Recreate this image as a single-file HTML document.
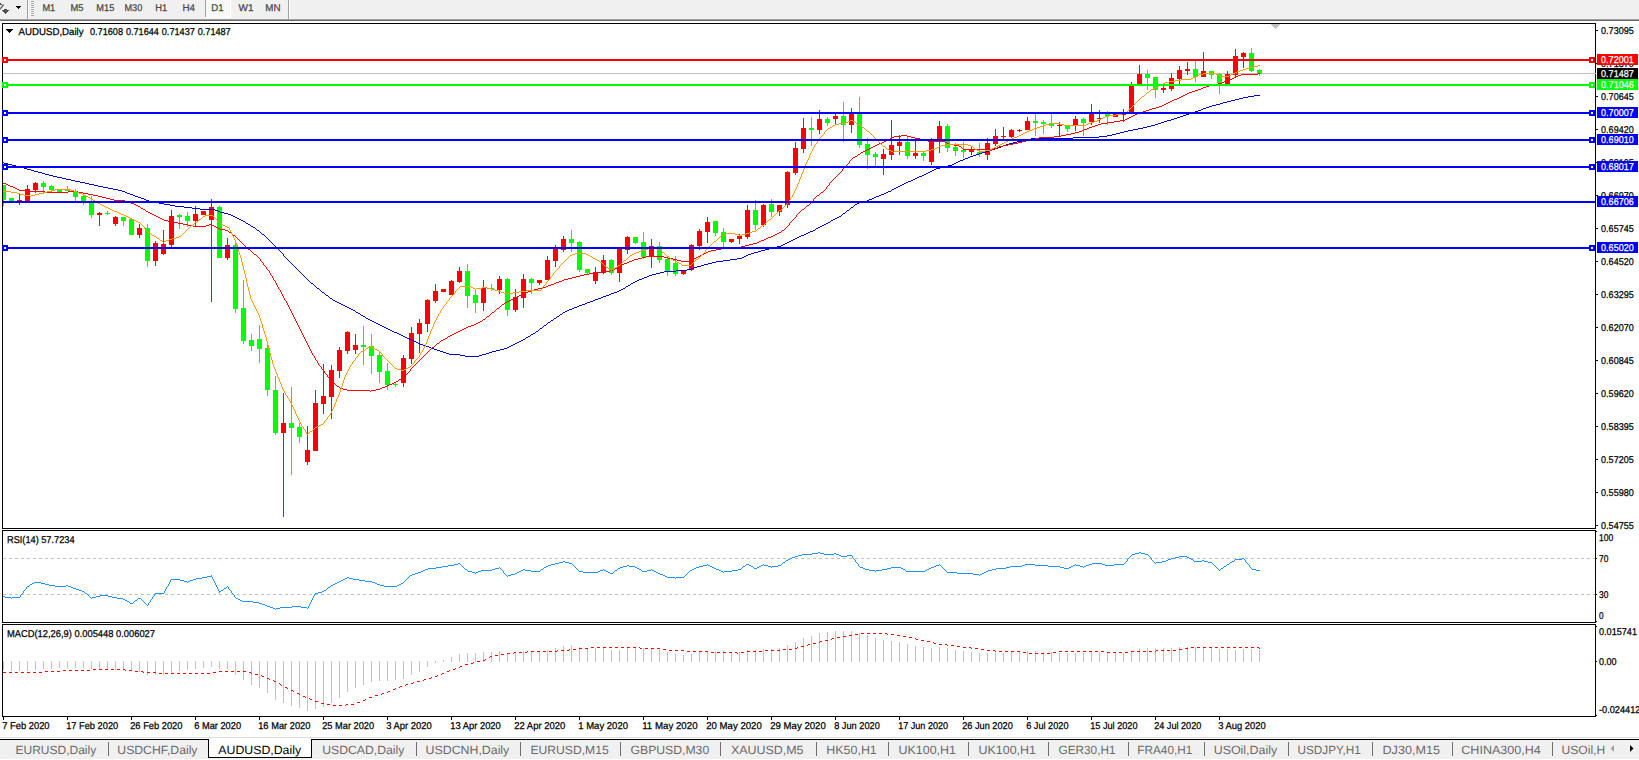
<!DOCTYPE html>
<html><head><meta charset="utf-8"><title>AUDUSD,Daily</title>
<style>html,body{margin:0;padding:0;background:#fff;overflow:hidden}svg{display:block}text{font-family:"Liberation Sans",sans-serif;text-rendering:geometricPrecision}</style>
</head><body>
<svg width="1639" height="760" viewBox="0 0 1639 760">
<rect x="0" y="0" width="1639" height="760" fill="#fff"/>
<rect x="0" y="0" width="1639" height="19" fill="#f0f0f0"/>
<rect x="0" y="19" width="1639" height="1" fill="#a0a0a0"/>
<rect x="0" y="20" width="1639" height="1" fill="#696969"/>
<g fill="#505050" shape-rendering="crispEdges"><path d="M0 3h1v1h1v1h-2z"/><rect x="4" y="9" width="3" height="1"/><rect x="2" y="10" width="7" height="1"/><rect x="3" y="11" width="5" height="1"/><rect x="4" y="12" width="3" height="1"/><rect x="5" y="13" width="1" height="1"/></g>
<path d="M3.6 4.6L0 9.2" stroke="#505050" stroke-width="1.3" fill="none"/>
<g fill="#000" shape-rendering="crispEdges"><rect x="16" y="6" width="5" height="1"/><rect x="17" y="7" width="3" height="1"/><rect x="18" y="8" width="1" height="1"/></g>
<rect x="27" y="0" width="1" height="19" fill="#a0a0a0"/>
<rect x="28" y="0" width="1" height="19" fill="#fff"/>
<rect x="31" y="1" width="3" height="1" fill="#a0a0a0"/>
<rect x="31" y="2" width="3" height="1" fill="#fff"/>
<rect x="31" y="3" width="3" height="1" fill="#a0a0a0"/>
<rect x="31" y="4" width="3" height="1" fill="#fff"/>
<rect x="31" y="5" width="3" height="1" fill="#a0a0a0"/>
<rect x="31" y="6" width="3" height="1" fill="#fff"/>
<rect x="31" y="7" width="3" height="1" fill="#a0a0a0"/>
<rect x="31" y="8" width="3" height="1" fill="#fff"/>
<rect x="31" y="9" width="3" height="1" fill="#a0a0a0"/>
<rect x="31" y="10" width="3" height="1" fill="#fff"/>
<rect x="31" y="11" width="3" height="1" fill="#a0a0a0"/>
<rect x="31" y="12" width="3" height="1" fill="#fff"/>
<rect x="31" y="13" width="3" height="1" fill="#a0a0a0"/>
<rect x="31" y="14" width="3" height="1" fill="#fff"/>
<rect x="31" y="15" width="3" height="1" fill="#a0a0a0"/>
<rect x="206" y="0" width="24" height="17" fill="#f8f8f8"/>
<rect x="205" y="0" width="1" height="18" fill="#a0a0a0"/>
<rect x="205" y="17" width="26" height="1" fill="#fff"/>
<rect x="230" y="0" width="1" height="18" fill="#fff"/>
<rect x="288" y="0" width="1" height="19" fill="#a0a0a0"/>
<rect x="289" y="0" width="1" height="19" fill="#fff"/>
<text x="42.4" y="11" font-size="9.8" fill="#484848" textLength="12.9" lengthAdjust="spacingAndGlyphs" stroke="#484848" stroke-width="0.25">M1</text>
<text x="70.5" y="11" font-size="9.8" fill="#484848" textLength="13.1" lengthAdjust="spacingAndGlyphs" stroke="#484848" stroke-width="0.25">M5</text>
<text x="96.3" y="11" font-size="9.8" fill="#484848" textLength="18.0" lengthAdjust="spacingAndGlyphs" stroke="#484848" stroke-width="0.25">M15</text>
<text x="124.5" y="11" font-size="9.8" fill="#484848" textLength="17.7" lengthAdjust="spacingAndGlyphs" stroke="#484848" stroke-width="0.25">M30</text>
<text x="155.3" y="11" font-size="9.8" fill="#484848" textLength="12.0" lengthAdjust="spacingAndGlyphs" stroke="#484848" stroke-width="0.25">H1</text>
<text x="182.4" y="11" font-size="9.8" fill="#484848" textLength="12.5" lengthAdjust="spacingAndGlyphs" stroke="#484848" stroke-width="0.25">H4</text>
<text x="211.3" y="11" font-size="9.8" fill="#484848" textLength="12.3" lengthAdjust="spacingAndGlyphs" stroke="#484848" stroke-width="0.25">D1</text>
<text x="238.6" y="11" font-size="9.8" fill="#484848" textLength="15.0" lengthAdjust="spacingAndGlyphs" stroke="#484848" stroke-width="0.25">W1</text>
<text x="265.3" y="11" font-size="9.8" fill="#484848" textLength="15.2" lengthAdjust="spacingAndGlyphs" stroke="#484848" stroke-width="0.25">MN</text>
<rect x="2" y="23" width="1594" height="1" fill="#000"/>
<rect x="2" y="528" width="1594" height="1" fill="#000"/>
<rect x="2" y="23" width="1" height="506" fill="#000"/>
<rect x="1595" y="23" width="1" height="506" fill="#000"/>
<rect x="2" y="530" width="1594" height="1" fill="#000"/>
<rect x="2" y="622" width="1594" height="1" fill="#000"/>
<rect x="2" y="530" width="1" height="93" fill="#000"/>
<rect x="1595" y="530" width="1" height="93" fill="#000"/>
<rect x="2" y="624" width="1594" height="1" fill="#000"/>
<rect x="2" y="716" width="1594" height="1" fill="#000"/>
<rect x="2" y="624" width="1" height="93" fill="#000"/>
<rect x="1595" y="624" width="1" height="93" fill="#000"/>
<g shape-rendering="crispEdges">
<rect x="3" y="73" width="1593" height="1" fill="#c0c0c0"/>
<rect x="3" y="185" width="1" height="21" fill="#00ff00"/>
<rect x="3" y="185" width="3" height="15" fill="#00ff00"/>
<rect x="11" y="198" width="1" height="3" fill="#00ff00"/>
<rect x="9" y="198" width="5" height="3" fill="#00ff00"/>
<rect x="19" y="193" width="1" height="12" fill="#ff0000"/>
<rect x="17" y="200" width="5" height="1" fill="#ff0000"/>
<rect x="27" y="185" width="1" height="16" fill="#ff0000"/>
<rect x="25" y="189" width="5" height="12" fill="#ff0000"/>
<rect x="35" y="182" width="1" height="11" fill="#ff0000"/>
<rect x="33" y="183" width="5" height="7" fill="#ff0000"/>
<rect x="43" y="181" width="1" height="13" fill="#00ff00"/>
<rect x="41" y="183" width="5" height="4" fill="#00ff00"/>
<rect x="51" y="185" width="1" height="7" fill="#00ff00"/>
<rect x="49" y="186" width="5" height="4" fill="#00ff00"/>
<rect x="59" y="189" width="1" height="3" fill="#00ff00"/>
<rect x="57" y="190" width="5" height="2" fill="#00ff00"/>
<rect x="67" y="186" width="1" height="5" fill="#00ff00"/>
<rect x="65" y="190" width="5" height="1" fill="#00ff00"/>
<rect x="75" y="189" width="1" height="12" fill="#00ff00"/>
<rect x="73" y="192" width="5" height="5" fill="#00ff00"/>
<rect x="83" y="193" width="1" height="12" fill="#00ff00"/>
<rect x="81" y="196" width="5" height="5" fill="#00ff00"/>
<rect x="91" y="196" width="1" height="22" fill="#00ff00"/>
<rect x="89" y="203" width="5" height="12" fill="#00ff00"/>
<rect x="99" y="212" width="1" height="14" fill="#ff0000"/>
<rect x="97" y="213" width="5" height="2" fill="#ff0000"/>
<rect x="107" y="211" width="1" height="4" fill="#00ff00"/>
<rect x="105" y="213" width="5" height="1" fill="#00ff00"/>
<rect x="115" y="216" width="1" height="10" fill="#ff0000"/>
<rect x="113" y="217" width="5" height="7" fill="#ff0000"/>
<rect x="123" y="217" width="1" height="9" fill="#00ff00"/>
<rect x="121" y="217" width="5" height="4" fill="#00ff00"/>
<rect x="131" y="219" width="1" height="16" fill="#00ff00"/>
<rect x="129" y="219" width="5" height="16" fill="#00ff00"/>
<rect x="139" y="224" width="1" height="14" fill="#ff0000"/>
<rect x="137" y="228" width="5" height="7" fill="#ff0000"/>
<rect x="147" y="224" width="1" height="43" fill="#00ff00"/>
<rect x="145" y="228" width="5" height="33" fill="#00ff00"/>
<rect x="155" y="241" width="1" height="25" fill="#ff0000"/>
<rect x="153" y="243" width="5" height="18" fill="#ff0000"/>
<rect x="163" y="230" width="1" height="25" fill="#ff0000"/>
<rect x="161" y="244" width="5" height="10" fill="#ff0000"/>
<rect x="171" y="210" width="1" height="37" fill="#ff0000"/>
<rect x="169" y="216" width="5" height="29" fill="#ff0000"/>
<rect x="179" y="214" width="1" height="15" fill="#00ff00"/>
<rect x="177" y="215" width="5" height="2" fill="#00ff00"/>
<rect x="187" y="212" width="1" height="15" fill="#00ff00"/>
<rect x="185" y="216" width="5" height="5" fill="#00ff00"/>
<rect x="195" y="206" width="1" height="21" fill="#ff0000"/>
<rect x="193" y="214" width="5" height="7" fill="#ff0000"/>
<rect x="203" y="211" width="1" height="4" fill="#ff0000"/>
<rect x="201" y="211" width="5" height="4" fill="#ff0000"/>
<rect x="211" y="199" width="1" height="103" fill="#ff0000"/>
<rect x="209" y="207" width="5" height="13" fill="#ff0000"/>
<rect x="219" y="206" width="1" height="52" fill="#00ff00"/>
<rect x="217" y="207" width="5" height="51" fill="#00ff00"/>
<rect x="227" y="238" width="1" height="22" fill="#ff0000"/>
<rect x="225" y="245" width="5" height="13" fill="#ff0000"/>
<rect x="235" y="243" width="1" height="70" fill="#00ff00"/>
<rect x="233" y="245" width="5" height="64" fill="#00ff00"/>
<rect x="243" y="280" width="1" height="64" fill="#00ff00"/>
<rect x="241" y="308" width="5" height="33" fill="#00ff00"/>
<rect x="251" y="334" width="1" height="17" fill="#00ff00"/>
<rect x="249" y="340" width="5" height="6" fill="#00ff00"/>
<rect x="259" y="325" width="1" height="38" fill="#00ff00"/>
<rect x="257" y="339" width="5" height="10" fill="#00ff00"/>
<rect x="267" y="343" width="1" height="53" fill="#00ff00"/>
<rect x="265" y="348" width="5" height="42" fill="#00ff00"/>
<rect x="275" y="376" width="1" height="59" fill="#00ff00"/>
<rect x="273" y="390" width="5" height="43" fill="#00ff00"/>
<rect x="283" y="393" width="1" height="124" fill="#ff0000"/>
<rect x="281" y="423" width="5" height="10" fill="#ff0000"/>
<rect x="291" y="387" width="1" height="88" fill="#00ff00"/>
<rect x="289" y="423" width="5" height="5" fill="#00ff00"/>
<rect x="299" y="423" width="1" height="20" fill="#00ff00"/>
<rect x="297" y="427" width="5" height="10" fill="#00ff00"/>
<rect x="307" y="426" width="1" height="39" fill="#ff0000"/>
<rect x="305" y="450" width="5" height="12" fill="#ff0000"/>
<rect x="315" y="390" width="1" height="61" fill="#ff0000"/>
<rect x="313" y="403" width="5" height="48" fill="#ff0000"/>
<rect x="323" y="364" width="1" height="50" fill="#ff0000"/>
<rect x="321" y="396" width="5" height="8" fill="#ff0000"/>
<rect x="331" y="365" width="1" height="54" fill="#ff0000"/>
<rect x="329" y="370" width="5" height="27" fill="#ff0000"/>
<rect x="339" y="347" width="1" height="31" fill="#ff0000"/>
<rect x="337" y="350" width="5" height="21" fill="#ff0000"/>
<rect x="347" y="331" width="1" height="23" fill="#ff0000"/>
<rect x="345" y="332" width="5" height="19" fill="#ff0000"/>
<rect x="355" y="334" width="1" height="20" fill="#ff0000"/>
<rect x="353" y="345" width="5" height="5" fill="#ff0000"/>
<rect x="363" y="326" width="1" height="39" fill="#00ff00"/>
<rect x="361" y="345" width="5" height="2" fill="#00ff00"/>
<rect x="371" y="334" width="1" height="40" fill="#00ff00"/>
<rect x="369" y="346" width="5" height="10" fill="#00ff00"/>
<rect x="379" y="351" width="1" height="32" fill="#00ff00"/>
<rect x="377" y="355" width="5" height="17" fill="#00ff00"/>
<rect x="387" y="363" width="1" height="27" fill="#00ff00"/>
<rect x="385" y="371" width="5" height="14" fill="#00ff00"/>
<rect x="395" y="383" width="1" height="4" fill="#00ff00"/>
<rect x="393" y="384" width="5" height="1" fill="#00ff00"/>
<rect x="403" y="355" width="1" height="32" fill="#ff0000"/>
<rect x="401" y="358" width="5" height="25" fill="#ff0000"/>
<rect x="411" y="327" width="1" height="37" fill="#ff0000"/>
<rect x="409" y="333" width="5" height="26" fill="#ff0000"/>
<rect x="419" y="319" width="1" height="34" fill="#ff0000"/>
<rect x="417" y="323" width="5" height="11" fill="#ff0000"/>
<rect x="427" y="299" width="1" height="33" fill="#ff0000"/>
<rect x="425" y="300" width="5" height="24" fill="#ff0000"/>
<rect x="435" y="284" width="1" height="19" fill="#ff0000"/>
<rect x="433" y="291" width="5" height="10" fill="#ff0000"/>
<rect x="443" y="289" width="1" height="3" fill="#ff0000"/>
<rect x="441" y="289" width="5" height="3" fill="#ff0000"/>
<rect x="451" y="280" width="1" height="15" fill="#ff0000"/>
<rect x="449" y="281" width="5" height="14" fill="#ff0000"/>
<rect x="459" y="267" width="1" height="16" fill="#ff0000"/>
<rect x="457" y="271" width="5" height="11" fill="#ff0000"/>
<rect x="467" y="264" width="1" height="44" fill="#00ff00"/>
<rect x="465" y="271" width="5" height="25" fill="#00ff00"/>
<rect x="475" y="289" width="1" height="24" fill="#00ff00"/>
<rect x="473" y="295" width="5" height="8" fill="#00ff00"/>
<rect x="483" y="280" width="1" height="31" fill="#ff0000"/>
<rect x="481" y="288" width="5" height="15" fill="#ff0000"/>
<rect x="491" y="284" width="1" height="7" fill="#00ff00"/>
<rect x="489" y="288" width="5" height="1" fill="#00ff00"/>
<rect x="499" y="276" width="1" height="18" fill="#ff0000"/>
<rect x="497" y="279" width="5" height="11" fill="#ff0000"/>
<rect x="507" y="278" width="1" height="38" fill="#00ff00"/>
<rect x="505" y="279" width="5" height="31" fill="#00ff00"/>
<rect x="515" y="289" width="1" height="23" fill="#ff0000"/>
<rect x="513" y="297" width="5" height="13" fill="#ff0000"/>
<rect x="523" y="274" width="1" height="34" fill="#ff0000"/>
<rect x="521" y="279" width="5" height="19" fill="#ff0000"/>
<rect x="531" y="278" width="1" height="16" fill="#00ff00"/>
<rect x="529" y="279" width="5" height="4" fill="#00ff00"/>
<rect x="539" y="280" width="1" height="5" fill="#ff0000"/>
<rect x="537" y="280" width="5" height="3" fill="#ff0000"/>
<rect x="547" y="256" width="1" height="24" fill="#ff0000"/>
<rect x="545" y="260" width="5" height="20" fill="#ff0000"/>
<rect x="555" y="245" width="1" height="22" fill="#ff0000"/>
<rect x="553" y="248" width="5" height="13" fill="#ff0000"/>
<rect x="563" y="236" width="1" height="16" fill="#ff0000"/>
<rect x="561" y="239" width="5" height="11" fill="#ff0000"/>
<rect x="571" y="230" width="1" height="22" fill="#00ff00"/>
<rect x="569" y="239" width="5" height="4" fill="#00ff00"/>
<rect x="579" y="241" width="1" height="31" fill="#00ff00"/>
<rect x="577" y="242" width="5" height="28" fill="#00ff00"/>
<rect x="587" y="269" width="1" height="5" fill="#00ff00"/>
<rect x="585" y="269" width="5" height="4" fill="#00ff00"/>
<rect x="595" y="267" width="1" height="17" fill="#ff0000"/>
<rect x="593" y="272" width="5" height="9" fill="#ff0000"/>
<rect x="603" y="255" width="1" height="19" fill="#ff0000"/>
<rect x="601" y="260" width="5" height="13" fill="#ff0000"/>
<rect x="611" y="259" width="1" height="16" fill="#00ff00"/>
<rect x="609" y="260" width="5" height="13" fill="#00ff00"/>
<rect x="619" y="247" width="1" height="35" fill="#ff0000"/>
<rect x="617" y="247" width="5" height="26" fill="#ff0000"/>
<rect x="627" y="236" width="1" height="18" fill="#ff0000"/>
<rect x="625" y="237" width="5" height="13" fill="#ff0000"/>
<rect x="635" y="237" width="1" height="7" fill="#00ff00"/>
<rect x="633" y="237" width="5" height="6" fill="#00ff00"/>
<rect x="643" y="232" width="1" height="27" fill="#00ff00"/>
<rect x="641" y="242" width="5" height="15" fill="#00ff00"/>
<rect x="651" y="239" width="1" height="29" fill="#ff0000"/>
<rect x="649" y="246" width="5" height="11" fill="#ff0000"/>
<rect x="659" y="242" width="1" height="21" fill="#00ff00"/>
<rect x="657" y="246" width="5" height="14" fill="#00ff00"/>
<rect x="667" y="256" width="1" height="20" fill="#00ff00"/>
<rect x="665" y="259" width="5" height="12" fill="#00ff00"/>
<rect x="675" y="256" width="1" height="20" fill="#00ff00"/>
<rect x="673" y="263" width="5" height="11" fill="#00ff00"/>
<rect x="683" y="271" width="1" height="4" fill="#ff0000"/>
<rect x="681" y="271" width="5" height="3" fill="#ff0000"/>
<rect x="691" y="244" width="1" height="27" fill="#ff0000"/>
<rect x="689" y="245" width="5" height="25" fill="#ff0000"/>
<rect x="699" y="229" width="1" height="21" fill="#ff0000"/>
<rect x="697" y="231" width="5" height="15" fill="#ff0000"/>
<rect x="707" y="217" width="1" height="26" fill="#ff0000"/>
<rect x="705" y="222" width="5" height="10" fill="#ff0000"/>
<rect x="715" y="221" width="1" height="15" fill="#00ff00"/>
<rect x="713" y="221" width="5" height="12" fill="#00ff00"/>
<rect x="723" y="228" width="1" height="19" fill="#00ff00"/>
<rect x="721" y="232" width="5" height="10" fill="#00ff00"/>
<rect x="731" y="239" width="1" height="4" fill="#ff0000"/>
<rect x="729" y="239" width="5" height="3" fill="#ff0000"/>
<rect x="739" y="234" width="1" height="10" fill="#ff0000"/>
<rect x="737" y="236" width="5" height="3" fill="#ff0000"/>
<rect x="747" y="205" width="1" height="34" fill="#ff0000"/>
<rect x="745" y="210" width="5" height="27" fill="#ff0000"/>
<rect x="755" y="200" width="1" height="30" fill="#00ff00"/>
<rect x="753" y="210" width="5" height="15" fill="#00ff00"/>
<rect x="763" y="204" width="1" height="23" fill="#ff0000"/>
<rect x="761" y="205" width="5" height="20" fill="#ff0000"/>
<rect x="771" y="199" width="1" height="18" fill="#00ff00"/>
<rect x="769" y="204" width="5" height="8" fill="#00ff00"/>
<rect x="779" y="205" width="1" height="11" fill="#ff0000"/>
<rect x="777" y="205" width="5" height="7" fill="#ff0000"/>
<rect x="787" y="171" width="1" height="37" fill="#ff0000"/>
<rect x="785" y="172" width="5" height="33" fill="#ff0000"/>
<rect x="795" y="142" width="1" height="33" fill="#ff0000"/>
<rect x="793" y="148" width="5" height="25" fill="#ff0000"/>
<rect x="803" y="118" width="1" height="35" fill="#ff0000"/>
<rect x="801" y="128" width="5" height="21" fill="#ff0000"/>
<rect x="811" y="117" width="1" height="29" fill="#00ff00"/>
<rect x="809" y="128" width="5" height="2" fill="#00ff00"/>
<rect x="819" y="110" width="1" height="24" fill="#ff0000"/>
<rect x="817" y="119" width="5" height="11" fill="#ff0000"/>
<rect x="827" y="117" width="1" height="9" fill="#00ff00"/>
<rect x="825" y="119" width="5" height="4" fill="#00ff00"/>
<rect x="835" y="114" width="1" height="10" fill="#ff0000"/>
<rect x="833" y="116" width="5" height="3" fill="#ff0000"/>
<rect x="843" y="102" width="1" height="40" fill="#00ff00"/>
<rect x="841" y="116" width="5" height="9" fill="#00ff00"/>
<rect x="851" y="108" width="1" height="25" fill="#ff0000"/>
<rect x="849" y="114" width="5" height="11" fill="#ff0000"/>
<rect x="859" y="97" width="1" height="51" fill="#00ff00"/>
<rect x="857" y="114" width="5" height="31" fill="#00ff00"/>
<rect x="867" y="138" width="1" height="31" fill="#00ff00"/>
<rect x="865" y="144" width="5" height="11" fill="#00ff00"/>
<rect x="875" y="152" width="1" height="14" fill="#00ff00"/>
<rect x="873" y="154" width="5" height="3" fill="#00ff00"/>
<rect x="883" y="149" width="1" height="26" fill="#ff0000"/>
<rect x="881" y="154" width="5" height="5" fill="#ff0000"/>
<rect x="891" y="120" width="1" height="40" fill="#ff0000"/>
<rect x="889" y="145" width="5" height="10" fill="#ff0000"/>
<rect x="899" y="135" width="1" height="20" fill="#ff0000"/>
<rect x="897" y="142" width="5" height="4" fill="#ff0000"/>
<rect x="907" y="137" width="1" height="22" fill="#00ff00"/>
<rect x="905" y="142" width="5" height="14" fill="#00ff00"/>
<rect x="915" y="138" width="1" height="21" fill="#ff0000"/>
<rect x="913" y="153" width="5" height="3" fill="#ff0000"/>
<rect x="923" y="151" width="1" height="10" fill="#00ff00"/>
<rect x="921" y="153" width="5" height="3" fill="#00ff00"/>
<rect x="931" y="138" width="1" height="27" fill="#ff0000"/>
<rect x="929" y="141" width="5" height="21" fill="#ff0000"/>
<rect x="939" y="121" width="1" height="32" fill="#ff0000"/>
<rect x="937" y="126" width="5" height="13" fill="#ff0000"/>
<rect x="947" y="124" width="1" height="28" fill="#00ff00"/>
<rect x="945" y="126" width="5" height="22" fill="#00ff00"/>
<rect x="955" y="143" width="1" height="13" fill="#00ff00"/>
<rect x="953" y="147" width="5" height="4" fill="#00ff00"/>
<rect x="963" y="142" width="1" height="16" fill="#00ff00"/>
<rect x="961" y="150" width="5" height="2" fill="#00ff00"/>
<rect x="971" y="147" width="1" height="8" fill="#ff0000"/>
<rect x="969" y="150" width="5" height="2" fill="#ff0000"/>
<rect x="979" y="143" width="1" height="14" fill="#00ff00"/>
<rect x="977" y="152" width="5" height="2" fill="#00ff00"/>
<rect x="987" y="138" width="1" height="22" fill="#ff0000"/>
<rect x="985" y="143" width="5" height="12" fill="#ff0000"/>
<rect x="995" y="129" width="1" height="17" fill="#ff0000"/>
<rect x="993" y="136" width="5" height="8" fill="#ff0000"/>
<rect x="1003" y="127" width="1" height="12" fill="#ff0000"/>
<rect x="1001" y="136" width="5" height="1" fill="#ff0000"/>
<rect x="1011" y="129" width="1" height="9" fill="#ff0000"/>
<rect x="1009" y="130" width="5" height="7" fill="#ff0000"/>
<rect x="1019" y="129" width="1" height="3" fill="#ff0000"/>
<rect x="1017" y="130" width="5" height="1" fill="#ff0000"/>
<rect x="1027" y="117" width="1" height="13" fill="#ff0000"/>
<rect x="1025" y="121" width="5" height="9" fill="#ff0000"/>
<rect x="1035" y="114" width="1" height="22" fill="#00ff00"/>
<rect x="1033" y="121" width="5" height="2" fill="#00ff00"/>
<rect x="1043" y="120" width="1" height="14" fill="#00ff00"/>
<rect x="1041" y="122" width="5" height="2" fill="#00ff00"/>
<rect x="1051" y="114" width="1" height="14" fill="#00ff00"/>
<rect x="1049" y="123" width="5" height="3" fill="#00ff00"/>
<rect x="1059" y="122" width="1" height="14" fill="#ff0000"/>
<rect x="1057" y="125" width="5" height="1" fill="#ff0000"/>
<rect x="1067" y="125" width="1" height="7" fill="#00ff00"/>
<rect x="1065" y="126" width="5" height="3" fill="#00ff00"/>
<rect x="1075" y="116" width="1" height="15" fill="#ff0000"/>
<rect x="1073" y="119" width="5" height="7" fill="#ff0000"/>
<rect x="1083" y="118" width="1" height="18" fill="#00ff00"/>
<rect x="1081" y="119" width="5" height="4" fill="#00ff00"/>
<rect x="1091" y="104" width="1" height="21" fill="#ff0000"/>
<rect x="1089" y="114" width="5" height="8" fill="#ff0000"/>
<rect x="1099" y="110" width="1" height="13" fill="#ff0000"/>
<rect x="1097" y="118" width="5" height="1" fill="#ff0000"/>
<rect x="1107" y="111" width="1" height="14" fill="#00ff00"/>
<rect x="1105" y="114" width="5" height="2" fill="#00ff00"/>
<rect x="1115" y="114" width="1" height="3" fill="#ff0000"/>
<rect x="1113" y="114" width="5" height="3" fill="#ff0000"/>
<rect x="1123" y="109" width="1" height="13" fill="#ff0000"/>
<rect x="1121" y="114" width="5" height="1" fill="#ff0000"/>
<rect x="1131" y="82" width="1" height="30" fill="#ff0000"/>
<rect x="1129" y="86" width="5" height="26" fill="#ff0000"/>
<rect x="1139" y="65" width="1" height="19" fill="#ff0000"/>
<rect x="1137" y="74" width="5" height="10" fill="#ff0000"/>
<rect x="1147" y="70" width="1" height="20" fill="#00ff00"/>
<rect x="1145" y="74" width="5" height="4" fill="#00ff00"/>
<rect x="1155" y="77" width="1" height="21" fill="#00ff00"/>
<rect x="1153" y="77" width="5" height="13" fill="#00ff00"/>
<rect x="1163" y="86" width="1" height="7" fill="#ff0000"/>
<rect x="1161" y="88" width="5" height="2" fill="#ff0000"/>
<rect x="1171" y="73" width="1" height="18" fill="#ff0000"/>
<rect x="1169" y="78" width="5" height="11" fill="#ff0000"/>
<rect x="1179" y="66" width="1" height="18" fill="#ff0000"/>
<rect x="1177" y="70" width="5" height="9" fill="#ff0000"/>
<rect x="1187" y="62" width="1" height="13" fill="#ff0000"/>
<rect x="1185" y="69" width="5" height="2" fill="#ff0000"/>
<rect x="1195" y="61" width="1" height="21" fill="#00ff00"/>
<rect x="1193" y="69" width="5" height="8" fill="#00ff00"/>
<rect x="1203" y="52" width="1" height="25" fill="#ff0000"/>
<rect x="1201" y="71" width="5" height="6" fill="#ff0000"/>
<rect x="1211" y="71" width="1" height="8" fill="#00ff00"/>
<rect x="1209" y="71" width="5" height="4" fill="#00ff00"/>
<rect x="1219" y="73" width="1" height="21" fill="#00ff00"/>
<rect x="1217" y="74" width="5" height="9" fill="#00ff00"/>
<rect x="1227" y="71" width="1" height="13" fill="#ff0000"/>
<rect x="1225" y="74" width="5" height="10" fill="#ff0000"/>
<rect x="1235" y="49" width="1" height="28" fill="#ff0000"/>
<rect x="1233" y="56" width="5" height="19" fill="#ff0000"/>
<rect x="1243" y="52" width="1" height="16" fill="#ff0000"/>
<rect x="1241" y="53" width="5" height="4" fill="#ff0000"/>
<rect x="1251" y="48" width="1" height="24" fill="#00ff00"/>
<rect x="1249" y="53" width="5" height="18" fill="#00ff00"/>
<rect x="1259" y="69" width="1" height="7" fill="#00ff00"/>
<rect x="1257" y="70" width="5" height="4" fill="#00ff00"/>
<path d="M1254 95h6v1h-6zM1248 96h6v1h-6zM1243 97h5v1h-5zM1239 98h4v1h-4zM1235 99h4v1h-4zM1231 100h4v1h-4zM1227 101h4v1h-4zM1223 102h4v1h-4zM1220 103h3v1h-3zM1216 104h4v1h-4zM1212 105h4v1h-4zM1209 106h3v1h-3zM1206 107h3v1h-3zM1203 108h3v1h-3zM1201 109h2v1h-2zM1198 110h3v1h-3zM1195 111h3v1h-3zM1192 112h3v1h-3zM1189 113h3v1h-3zM1186 114h3v1h-3zM1183 115h3v1h-3zM1180 116h3v1h-3zM1177 117h3v1h-3zM1174 118h3v1h-3zM1171 119h3v1h-3zM1167 120h4v1h-4zM1164 121h3v1h-3zM1161 122h3v1h-3zM1158 123h3v1h-3zM1155 124h3v1h-3zM1151 125h4v1h-4zM1147 126h4v1h-4zM1143 127h4v1h-4zM1138 128h5v1h-5zM1133 129h5v1h-5zM1128 130h5v1h-5zM1124 131h4v1h-4zM1120 132h4v1h-4zM1116 133h4v1h-4zM1112 134h4v1h-4zM1107 135h5v1h-5zM1099 136h8v1h-8zM1073 137h26v1h-26zM1031 138h42v1h-42zM1026 139h5v1h-5zM1022 140h4v1h-4zM1017 141h5v1h-5zM1013 142h4v1h-4zM1009 143h4v1h-4zM1006 144h3v1h-3zM1003 145h3v1h-3zM1001 146h2v1h-2zM998 147h3v1h-3zM995 148h3v1h-3zM992 149h3v1h-3zM989 150h3v1h-3zM986 151h3v1h-3zM982 152h4v1h-4zM979 153h3v1h-3zM976 154h3v1h-3zM973 155h3v1h-3zM970 156h3v1h-3zM968 157h2v1h-2zM965 158h3v1h-3zM963 159h2v1h-2zM960 160h3v1h-3zM958 161h2v1h-2zM2 162h2v1h-2zM956 162h2v1h-2zM4 163h4v1h-4zM954 163h2v1h-2zM8 164h4v1h-4zM952 164h2v1h-2zM12 165h4v1h-4zM948 165h4v1h-4zM16 166h4v1h-4zM944 166h4v1h-4zM20 167h4v1h-4zM940 167h4v1h-4zM24 168h3v1h-3zM936 168h4v1h-4zM27 169h4v1h-4zM934 169h2v1h-2zM31 170h3v1h-3zM932 170h2v1h-2zM34 171h4v1h-4zM930 171h2v1h-2zM38 172h4v1h-4zM928 172h2v1h-2zM42 173h3v1h-3zM926 173h2v1h-2zM45 174h4v1h-4zM924 174h2v1h-2zM49 175h4v1h-4zM922 175h2v1h-2zM53 176h4v1h-4zM919 176h3v1h-3zM57 177h5v1h-5zM917 177h2v1h-2zM62 178h4v1h-4zM915 178h2v1h-2zM66 179h5v1h-5zM913 179h2v1h-2zM71 180h4v1h-4zM911 180h2v1h-2zM75 181h5v1h-5zM908 181h3v1h-3zM80 182h5v1h-5zM906 182h2v1h-2zM85 183h4v1h-4zM904 183h2v1h-2zM89 184h5v1h-5zM902 184h2v1h-2zM94 185h4v1h-4zM900 185h2v1h-2zM98 186h5v1h-5zM898 186h2v1h-2zM103 187h5v1h-5zM896 187h2v1h-2zM108 188h5v1h-5zM894 188h2v1h-2zM113 189h5v1h-5zM892 189h2v1h-2zM118 190h4v1h-4zM891 190h1v1h-1zM122 191h3v1h-3zM888 191h3v1h-3zM125 192h2v1h-2zM886 192h2v1h-2zM127 193h3v1h-3zM884 193h2v1h-2zM130 194h3v1h-3zM881 194h3v1h-3zM133 195h2v1h-2zM879 195h2v1h-2zM135 196h3v1h-3zM876 196h3v1h-3zM138 197h3v1h-3zM874 197h2v1h-2zM141 198h3v1h-3zM872 198h2v1h-2zM144 199h2v1h-2zM869 199h3v1h-3zM146 200h3v1h-3zM867 200h2v1h-2zM149 201h4v1h-4zM863 201h4v1h-4zM153 202h6v1h-6zM859 202h4v1h-4zM159 203h5v1h-5zM857 203h2v1h-2zM164 204h6v1h-6zM855 204h2v1h-2zM170 205h5v1h-5zM854 205h1v1h-1zM175 206h9v1h-9zM853 206h1v1h-1zM184 207h8v1h-8zM851 207h2v1h-2zM192 208h8v1h-8zM850 208h1v1h-1zM200 209h15v1h-15zM849 209h1v1h-1zM215 210h3v1h-3zM847 210h2v1h-2zM218 211h2v1h-2zM846 211h1v1h-1zM220 212h4v1h-4zM845 212h1v1h-1zM224 213h4v1h-4zM843 213h2v1h-2zM228 214h3v1h-3zM842 214h1v1h-1zM231 215h2v1h-2zM841 215h1v1h-1zM233 216h2v1h-2zM839 216h2v1h-2zM235 217h2v1h-2zM837 217h2v1h-2zM237 218h2v1h-2zM835 218h2v1h-2zM239 219h2v1h-2zM833 219h2v1h-2zM241 220h2v1h-2zM831 220h2v1h-2zM243 221h2v1h-2zM830 221h1v1h-1zM245 222h1v1h-1zM828 222h2v1h-2zM246 223h2v1h-2zM826 223h2v1h-2zM248 224h2v1h-2zM824 224h2v1h-2zM250 225h1v1h-1zM822 225h2v1h-2zM251 226h2v1h-2zM820 226h2v1h-2zM253 227h2v1h-2zM818 227h2v1h-2zM255 228h1v1h-1zM816 228h2v1h-2zM256 229h1v1h-1zM815 229h1v1h-1zM257 230h2v1h-2zM813 230h2v1h-2zM259 231h1v1h-1zM810 231h3v1h-3zM260 232h1v1h-1zM808 232h2v1h-2zM261 233h1v1h-1zM806 233h2v1h-2zM262 234h2v1h-2zM804 234h2v1h-2zM264 235h1v1h-1zM801 235h3v1h-3zM265 236h1v1h-1zM799 236h2v1h-2zM266 237h1v1h-1zM797 237h2v1h-2zM267 238h1v1h-1zM795 238h2v1h-2zM268 239h1v1h-1zM793 239h2v1h-2zM269 240h1v1h-1zM791 240h2v1h-2zM270 241h1v1h-1zM789 241h2v1h-2zM271 242h1v1h-1zM787 242h2v1h-2zM272 243h1v1h-1zM785 243h2v1h-2zM273 244h1v1h-1zM783 244h2v1h-2zM274 245h1v1h-1zM781 245h2v1h-2zM275 246h1v1h-1zM777 246h4v1h-4zM276 247h1v1h-1zM773 247h4v1h-4zM277 248h1v1h-1zM769 248h4v1h-4zM278 249h1v1h-1zM765 249h4v1h-4zM279 250h1v1h-1zM761 250h4v1h-4zM280 251h1v1h-1zM758 251h3v1h-3zM281 252h1v1h-1zM754 252h4v1h-4zM282 253h1v1h-1zM751 253h3v1h-3zM748 254h3v1h-3zM283 254h1v2h-1zM746 255h2v1h-2zM284 256h1v1h-1zM744 256h2v1h-2zM285 257h1v1h-1zM742 257h2v1h-2zM286 258h1v1h-1zM737 258h5v1h-5zM287 259h1v1h-1zM730 259h7v1h-7zM288 260h1v1h-1zM723 260h7v1h-7zM289 261h1v1h-1zM716 261h7v1h-7zM290 262h1v1h-1zM712 262h4v1h-4zM291 263h1v1h-1zM708 263h4v1h-4zM292 264h1v1h-1zM704 264h4v1h-4zM293 265h1v1h-1zM701 265h3v1h-3zM294 266h1v1h-1zM697 266h4v1h-4zM295 267h1v1h-1zM694 267h3v1h-3zM296 268h1v1h-1zM691 268h3v1h-3zM297 269h1v1h-1zM687 269h4v1h-4zM298 270h1v1h-1zM676 270h11v1h-11zM299 271h1v1h-1zM664 271h12v1h-12zM300 272h1v1h-1zM660 272h4v1h-4zM301 273h1v1h-1zM656 273h4v1h-4zM302 274h1v1h-1zM652 274h4v1h-4zM303 275h1v1h-1zM649 275h3v1h-3zM304 276h1v1h-1zM647 276h2v1h-2zM305 277h1v1h-1zM644 277h3v1h-3zM306 278h1v1h-1zM642 278h2v1h-2zM307 279h1v1h-1zM639 279h3v1h-3zM308 280h1v1h-1zM637 280h2v1h-2zM309 281h1v1h-1zM635 281h2v1h-2zM310 282h1v1h-1zM633 282h2v1h-2zM311 283h2v1h-2zM631 283h2v1h-2zM313 284h1v1h-1zM630 284h1v1h-1zM314 285h1v1h-1zM628 285h2v1h-2zM315 286h1v1h-1zM626 286h2v1h-2zM316 287h1v1h-1zM625 287h1v1h-1zM317 288h2v1h-2zM623 288h2v1h-2zM319 289h1v1h-1zM621 289h2v1h-2zM320 290h1v1h-1zM619 290h2v1h-2zM321 291h1v1h-1zM617 291h2v1h-2zM322 292h2v1h-2zM614 292h3v1h-3zM324 293h1v1h-1zM611 293h3v1h-3zM325 294h1v1h-1zM609 294h2v1h-2zM326 295h2v1h-2zM606 295h3v1h-3zM328 296h1v1h-1zM603 296h3v1h-3zM329 297h1v1h-1zM601 297h2v1h-2zM330 298h2v1h-2zM598 298h3v1h-3zM332 299h1v1h-1zM595 299h3v1h-3zM333 300h2v1h-2zM593 300h2v1h-2zM335 301h2v1h-2zM590 301h3v1h-3zM337 302h2v1h-2zM587 302h3v1h-3zM339 303h2v1h-2zM585 303h2v1h-2zM341 304h2v1h-2zM582 304h3v1h-3zM343 305h2v1h-2zM579 305h3v1h-3zM345 306h2v1h-2zM577 306h2v1h-2zM347 307h2v1h-2zM574 307h3v1h-3zM349 308h2v1h-2zM572 308h2v1h-2zM351 309h2v1h-2zM569 309h3v1h-3zM353 310h2v1h-2zM567 310h2v1h-2zM355 311h1v1h-1zM565 311h2v1h-2zM356 312h2v1h-2zM563 312h2v1h-2zM358 313h2v1h-2zM562 313h1v1h-1zM360 314h1v1h-1zM560 314h2v1h-2zM361 315h2v1h-2zM559 315h1v1h-1zM363 316h2v1h-2zM557 316h2v1h-2zM365 317h1v1h-1zM556 317h1v1h-1zM366 318h2v1h-2zM554 318h2v1h-2zM368 319h2v1h-2zM553 319h1v1h-1zM370 320h2v1h-2zM551 320h2v1h-2zM372 321h2v1h-2zM550 321h1v1h-1zM374 322h2v1h-2zM548 322h2v1h-2zM376 323h2v1h-2zM547 323h1v1h-1zM378 324h2v1h-2zM546 324h1v1h-1zM380 325h2v1h-2zM544 325h2v1h-2zM382 326h2v1h-2zM543 326h1v1h-1zM384 327h2v1h-2zM542 327h1v1h-1zM386 328h2v1h-2zM540 328h2v1h-2zM388 329h2v1h-2zM539 329h1v1h-1zM390 330h2v1h-2zM538 330h1v1h-1zM392 331h2v1h-2zM536 331h2v1h-2zM394 332h3v1h-3zM535 332h1v1h-1zM397 333h2v1h-2zM533 333h2v1h-2zM399 334h2v1h-2zM531 334h2v1h-2zM401 335h2v1h-2zM530 335h1v1h-1zM403 336h2v1h-2zM528 336h2v1h-2zM405 337h2v1h-2zM526 337h2v1h-2zM407 338h2v1h-2zM525 338h1v1h-1zM409 339h3v1h-3zM523 339h2v1h-2zM412 340h2v1h-2zM521 340h2v1h-2zM414 341h2v1h-2zM519 341h2v1h-2zM416 342h2v1h-2zM517 342h2v1h-2zM418 343h2v1h-2zM515 343h2v1h-2zM420 344h3v1h-3zM513 344h2v1h-2zM423 345h3v1h-3zM511 345h2v1h-2zM426 346h3v1h-3zM509 346h2v1h-2zM429 347h2v1h-2zM507 347h2v1h-2zM431 348h3v1h-3zM504 348h3v1h-3zM434 349h3v1h-3zM500 349h4v1h-4zM437 350h3v1h-3zM496 350h4v1h-4zM440 351h3v1h-3zM492 351h4v1h-4zM443 352h3v1h-3zM489 352h3v1h-3zM446 353h3v1h-3zM486 353h3v1h-3zM449 354h11v1h-11zM482 354h4v1h-4zM460 355h5v1h-5zM479 355h3v1h-3zM465 356h14v1h-14z" fill="#0000cd"/>
<path d="M1258 73h2v1h-2zM1241 74h17v1h-17zM1238 75h3v1h-3zM1236 76h2v1h-2zM1234 77h2v1h-2zM1232 78h2v1h-2zM1229 79h3v1h-3zM1227 80h2v1h-2zM1224 81h3v1h-3zM1222 82h2v1h-2zM1218 83h4v1h-4zM1213 84h5v1h-5zM1209 85h4v1h-4zM1206 86h3v1h-3zM1203 87h3v1h-3zM1201 88h2v1h-2zM1198 89h3v1h-3zM1195 90h3v1h-3zM1192 91h3v1h-3zM1189 92h3v1h-3zM1187 93h2v1h-2zM1185 94h2v1h-2zM1183 95h2v1h-2zM1181 96h2v1h-2zM1179 97h2v1h-2zM1177 98h2v1h-2zM1174 99h3v1h-3zM1172 100h2v1h-2zM1170 101h2v1h-2zM1168 102h2v1h-2zM1166 103h2v1h-2zM1164 104h2v1h-2zM1162 105h2v1h-2zM1159 106h3v1h-3zM1156 107h3v1h-3zM1152 108h4v1h-4zM1149 109h3v1h-3zM1146 110h3v1h-3zM1143 111h3v1h-3zM1140 112h3v1h-3zM1137 113h3v1h-3zM1135 114h2v1h-2zM1133 115h2v1h-2zM1131 116h2v1h-2zM1129 117h2v1h-2zM1127 118h2v1h-2zM1125 119h2v1h-2zM1120 120h5v1h-5zM1114 121h6v1h-6zM1107 122h7v1h-7zM1101 123h6v1h-6zM1098 124h3v1h-3zM1095 125h3v1h-3zM1092 126h3v1h-3zM1089 127h3v1h-3zM1087 128h2v1h-2zM1084 129h3v1h-3zM1082 130h2v1h-2zM1079 131h3v1h-3zM1075 132h4v1h-4zM1071 133h4v1h-4zM1066 134h5v1h-5zM901 135h6v1h-6zM1061 135h5v1h-5zM894 136h7v1h-7zM907 136h4v1h-4zM1054 136h7v1h-7zM892 137h2v1h-2zM911 137h4v1h-4zM1039 137h15v1h-15zM890 138h2v1h-2zM915 138h5v1h-5zM1035 138h4v1h-4zM888 139h2v1h-2zM920 139h4v1h-4zM1031 139h4v1h-4zM886 140h2v1h-2zM924 140h4v1h-4zM1026 140h5v1h-5zM884 141h2v1h-2zM928 141h17v1h-17zM1022 141h4v1h-4zM882 142h2v1h-2zM945 142h2v1h-2zM1018 142h4v1h-4zM879 143h3v1h-3zM947 143h2v1h-2zM1013 143h5v1h-5zM877 144h2v1h-2zM949 144h5v1h-5zM1008 144h5v1h-5zM875 145h2v1h-2zM954 145h5v1h-5zM1003 145h5v1h-5zM873 146h2v1h-2zM959 146h2v1h-2zM999 146h4v1h-4zM871 147h2v1h-2zM961 147h1v1h-1zM997 147h2v1h-2zM869 148h2v1h-2zM962 148h1v1h-1zM994 148h3v1h-3zM867 149h2v1h-2zM963 149h26v1h-26zM992 149h2v1h-2zM865 150h2v1h-2zM989 150h3v1h-3zM863 151h2v1h-2zM861 152h2v1h-2zM860 153h1v1h-1zM858 154h2v1h-2zM857 155h1v1h-1zM855 156h2v1h-2zM853 157h2v1h-2zM852 158h1v1h-1zM851 159h1v1h-1zM850 160h1v1h-1zM849 161h1v2h-1zM848 163h1v1h-1zM847 164h1v1h-1zM846 165h1v1h-1zM845 166h1v1h-1zM844 167h1v1h-1zM843 168h1v1h-1zM842 169h1v2h-1zM841 171h1v1h-1zM840 172h1v1h-1zM839 173h1v1h-1zM838 174h1v1h-1zM837 175h1v1h-1zM836 176h1v1h-1zM835 177h1v1h-1zM834 178h1v1h-1zM833 179h1v1h-1zM832 180h1v1h-1zM831 181h1v1h-1zM830 182h1v1h-1zM3 183h3v1h-3zM829 183h1v2h-1zM6 184h2v1h-2zM8 185h2v1h-2zM828 185h1v1h-1zM10 186h3v1h-3zM827 186h1v1h-1zM13 187h2v1h-2zM826 187h1v2h-1zM15 188h2v1h-2zM17 189h2v1h-2zM825 189h1v1h-1zM19 190h6v1h-6zM824 190h1v1h-1zM25 191h20v1h-20zM68 191h10v1h-10zM823 191h1v1h-1zM45 192h23v1h-23zM78 192h5v1h-5zM821 192h2v1h-2zM83 193h5v1h-5zM820 193h1v1h-1zM88 194h5v1h-5zM819 194h1v1h-1zM93 195h5v1h-5zM817 195h2v1h-2zM98 196h4v1h-4zM816 196h1v1h-1zM102 197h4v1h-4zM815 197h1v1h-1zM106 198h4v1h-4zM814 198h1v1h-1zM110 199h4v1h-4zM813 199h1v2h-1zM114 200h11v1h-11zM125 201h3v1h-3zM812 201h1v1h-1zM128 202h3v1h-3zM811 202h1v1h-1zM131 203h3v1h-3zM810 203h1v1h-1zM134 204h2v1h-2zM809 204h1v1h-1zM136 205h2v1h-2zM807 205h2v1h-2zM138 206h2v1h-2zM806 206h1v1h-1zM140 207h1v1h-1zM805 207h1v1h-1zM141 208h2v1h-2zM804 208h1v1h-1zM143 209h2v1h-2zM802 209h2v1h-2zM145 210h1v1h-1zM801 210h1v1h-1zM146 211h2v1h-2zM800 211h1v1h-1zM148 212h2v1h-2zM799 212h1v1h-1zM150 213h2v1h-2zM798 213h1v1h-1zM152 214h2v1h-2zM797 214h1v1h-1zM154 215h2v1h-2zM796 215h1v2h-1zM156 216h2v1h-2zM158 217h2v1h-2zM795 217h1v1h-1zM160 218h2v1h-2zM794 218h1v1h-1zM162 219h2v1h-2zM793 219h1v1h-1zM164 220h4v1h-4zM792 220h1v1h-1zM168 221h5v1h-5zM791 221h1v1h-1zM173 222h5v1h-5zM790 222h1v1h-1zM178 223h5v1h-5zM789 223h1v2h-1zM183 224h5v1h-5zM209 224h3v1h-3zM188 225h5v1h-5zM206 225h3v1h-3zM212 225h2v1h-2zM788 225h1v1h-1zM193 226h13v1h-13zM214 226h2v1h-2zM787 226h1v1h-1zM216 227h2v1h-2zM786 227h1v1h-1zM218 228h2v1h-2zM785 228h1v1h-1zM220 229h5v1h-5zM784 229h1v1h-1zM225 230h3v1h-3zM782 230h2v1h-2zM228 231h1v1h-1zM781 231h1v1h-1zM229 232h2v1h-2zM779 232h2v1h-2zM231 233h1v1h-1zM777 233h2v1h-2zM232 234h1v1h-1zM775 234h2v1h-2zM233 235h2v1h-2zM773 235h2v1h-2zM235 236h1v1h-1zM771 236h2v1h-2zM236 237h1v1h-1zM768 237h3v1h-3zM237 238h1v1h-1zM766 238h2v1h-2zM238 239h1v1h-1zM764 239h2v1h-2zM239 240h1v1h-1zM761 240h3v1h-3zM240 241h1v1h-1zM759 241h2v1h-2zM241 242h1v1h-1zM757 242h2v1h-2zM242 243h1v1h-1zM753 243h4v1h-4zM243 244h1v1h-1zM749 244h4v1h-4zM244 245h1v1h-1zM745 245h4v1h-4zM245 246h1v1h-1zM741 246h4v1h-4zM246 247h1v1h-1zM731 247h10v1h-10zM247 248h1v1h-1zM721 248h10v1h-10zM248 249h2v1h-2zM716 249h5v1h-5zM250 250h1v1h-1zM711 250h5v1h-5zM251 251h1v1h-1zM708 251h3v1h-3zM252 252h1v1h-1zM706 252h2v1h-2zM253 253h1v1h-1zM704 253h2v1h-2zM254 254h2v1h-2zM702 254h2v1h-2zM256 255h1v1h-1zM700 255h2v1h-2zM257 256h1v1h-1zM646 256h18v1h-18zM698 256h2v1h-2zM258 257h1v1h-1zM642 257h4v1h-4zM664 257h4v1h-4zM696 257h2v1h-2zM259 258h1v1h-1zM638 258h4v1h-4zM668 258h5v1h-5zM694 258h2v1h-2zM634 259h4v1h-4zM673 259h4v1h-4zM692 259h2v1h-2zM260 259h1v2h-1zM632 260h2v1h-2zM677 260h4v1h-4zM691 260h1v1h-1zM261 261h1v1h-1zM629 261h3v1h-3zM681 261h10v1h-10zM262 262h1v1h-1zM627 262h2v1h-2zM624 263h3v1h-3zM263 263h1v2h-1zM622 264h2v1h-2zM264 265h1v1h-1zM620 265h2v1h-2zM265 266h1v1h-1zM618 266h2v1h-2zM617 267h1v1h-1zM266 267h1v2h-1zM615 268h2v1h-2zM267 269h1v1h-1zM613 269h2v1h-2zM268 270h1v1h-1zM610 270h3v1h-3zM606 271h4v1h-4zM269 271h1v2h-1zM596 272h10v1h-10zM589 273h7v1h-7zM270 273h1v2h-1zM584 274h5v1h-5zM271 275h1v1h-1zM580 275h4v1h-4zM576 276h4v1h-4zM272 276h1v2h-1zM572 277h4v1h-4zM568 278h4v1h-4zM273 278h1v2h-1zM564 279h4v1h-4zM274 280h1v1h-1zM562 280h2v1h-2zM559 281h3v1h-3zM275 281h1v2h-1zM556 282h3v1h-3zM554 283h2v1h-2zM276 283h1v2h-1zM551 284h3v1h-3zM548 285h3v1h-3zM277 285h1v2h-1zM546 286h2v1h-2zM542 287h4v1h-4zM278 287h1v2h-1zM538 288h4v1h-4zM279 289h1v1h-1zM534 289h4v1h-4zM531 290h3v1h-3zM280 290h1v2h-1zM528 291h3v1h-3zM526 292h2v1h-2zM281 292h1v2h-1zM524 293h2v1h-2zM521 294h3v1h-3zM282 294h1v2h-1zM519 295h2v1h-2zM517 296h2v1h-2zM283 296h1v2h-1zM515 297h2v1h-2zM513 298h2v1h-2zM284 298h1v2h-1zM511 299h2v1h-2zM285 300h1v1h-1zM509 300h2v1h-2zM507 301h2v1h-2zM286 301h1v2h-1zM505 302h2v1h-2zM504 303h1v1h-1zM287 303h1v2h-1zM502 304h2v1h-2zM501 305h1v1h-1zM288 305h1v2h-1zM500 306h1v1h-1zM499 307h1v1h-1zM289 307h1v2h-1zM497 308h2v1h-2zM496 309h1v1h-1zM290 309h1v2h-1zM495 310h1v1h-1zM494 311h1v1h-1zM291 311h1v2h-1zM492 312h2v1h-2zM491 313h1v1h-1zM292 313h1v2h-1zM490 314h1v1h-1zM489 315h1v1h-1zM293 315h1v2h-1zM487 316h2v1h-2zM486 317h1v1h-1zM294 317h1v2h-1zM485 318h1v1h-1zM483 319h2v1h-2zM295 319h1v2h-1zM482 320h1v1h-1zM480 321h2v1h-2zM296 321h1v2h-1zM478 322h2v1h-2zM476 323h2v1h-2zM297 323h1v2h-1zM474 324h2v1h-2zM471 325h3v1h-3zM298 325h1v2h-1zM468 326h3v1h-3zM466 327h2v1h-2zM299 327h1v2h-1zM464 328h2v1h-2zM462 329h2v1h-2zM300 329h1v2h-1zM460 330h2v1h-2zM458 331h2v1h-2zM301 331h1v2h-1zM456 332h2v1h-2zM454 333h2v1h-2zM302 333h1v2h-1zM452 334h2v1h-2zM450 335h2v1h-2zM303 335h1v2h-1zM448 336h2v1h-2zM447 337h1v1h-1zM304 337h1v2h-1zM445 338h2v1h-2zM443 339h2v1h-2zM305 339h1v2h-1zM441 340h2v1h-2zM440 341h1v1h-1zM306 341h1v2h-1zM439 342h1v1h-1zM437 343h2v1h-2zM307 343h1v2h-1zM436 344h1v1h-1zM435 345h1v1h-1zM308 345h1v2h-1zM434 346h1v1h-1zM432 347h2v1h-2zM309 347h1v2h-1zM431 348h1v1h-1zM430 349h1v1h-1zM310 349h1v2h-1zM429 350h1v1h-1zM428 351h1v1h-1zM311 351h1v2h-1zM427 352h1v1h-1zM426 353h1v1h-1zM312 353h1v2h-1zM425 354h1v1h-1zM313 355h1v1h-1zM424 355h1v1h-1zM423 356h1v1h-1zM314 356h1v2h-1zM422 357h1v1h-1zM421 358h1v1h-1zM315 358h1v2h-1zM420 359h1v1h-1zM316 360h1v1h-1zM419 360h1v1h-1zM418 361h1v1h-1zM317 361h1v2h-1zM417 362h1v1h-1zM416 363h1v1h-1zM318 363h1v2h-1zM415 364h1v1h-1zM319 365h1v1h-1zM414 365h1v1h-1zM320 366h1v1h-1zM413 366h1v1h-1zM412 367h1v1h-1zM321 367h1v2h-1zM411 368h1v1h-1zM322 369h1v1h-1zM410 369h1v2h-1zM323 370h1v1h-1zM409 371h1v1h-1zM324 371h1v2h-1zM408 372h1v1h-1zM325 373h1v1h-1zM407 373h1v1h-1zM326 374h1v1h-1zM406 374h1v1h-1zM405 375h1v1h-1zM327 375h1v2h-1zM403 376h2v1h-2zM328 377h1v1h-1zM402 377h1v1h-1zM329 378h1v1h-1zM401 378h1v1h-1zM330 379h1v1h-1zM399 379h2v1h-2zM331 380h1v1h-1zM398 380h1v1h-1zM332 381h1v1h-1zM396 381h2v1h-2zM333 382h1v1h-1zM394 382h2v1h-2zM334 383h1v1h-1zM392 383h2v1h-2zM335 384h1v1h-1zM389 384h3v1h-3zM336 385h1v1h-1zM387 385h2v1h-2zM337 386h2v1h-2zM385 386h2v1h-2zM339 387h1v1h-1zM382 387h3v1h-3zM340 388h3v1h-3zM380 388h2v1h-2zM343 389h4v1h-4zM376 389h4v1h-4zM347 390h23v1h-23zM371 390h5v1h-5zM370 391h1v1h-1z" fill="#ff0000"/>
<path d="M1258 65h2v1h-2zM1254 66h4v1h-4zM1250 67h4v1h-4zM1246 68h4v1h-4zM1243 69h3v1h-3zM1240 70h3v1h-3zM1237 71h3v1h-3zM1235 72h2v1h-2zM1203 73h13v1h-13zM1233 73h2v1h-2zM1199 74h4v1h-4zM1216 74h2v1h-2zM1231 74h2v1h-2zM1197 75h2v1h-2zM1218 75h2v1h-2zM1229 75h2v1h-2zM1195 76h2v1h-2zM1220 76h9v1h-9zM1193 77h2v1h-2zM1191 78h2v1h-2zM1181 79h10v1h-10zM1175 80h6v1h-6zM1169 81h6v1h-6zM1165 82h4v1h-4zM1163 83h2v1h-2zM1161 84h2v1h-2zM1159 85h2v1h-2zM1157 86h2v1h-2zM1155 87h2v1h-2zM1153 88h2v1h-2zM1151 89h2v1h-2zM1150 90h1v1h-1zM1149 91h1v1h-1zM1147 92h2v1h-2zM1146 93h1v1h-1zM1145 94h1v1h-1zM1144 95h1v1h-1zM1142 96h2v1h-2zM1141 97h1v1h-1zM1140 98h1v1h-1zM1139 99h1v1h-1zM1138 100h1v1h-1zM1137 101h1v1h-1zM1136 102h1v1h-1zM1135 103h1v1h-1zM1134 104h1v1h-1zM1133 105h1v1h-1zM1132 106h1v1h-1zM1131 107h1v1h-1zM1130 108h1v1h-1zM1129 109h1v1h-1zM1128 110h1v1h-1zM1127 111h1v1h-1zM1126 112h1v1h-1zM1122 113h4v1h-4zM1116 114h6v1h-6zM1109 115h7v1h-7zM1105 116h4v1h-4zM1103 117h2v1h-2zM1101 118h2v1h-2zM1099 119h2v1h-2zM850 120h3v1h-3zM1097 120h2v1h-2zM848 121h2v1h-2zM853 121h2v1h-2zM1094 121h3v1h-3zM846 122h2v1h-2zM855 122h1v1h-1zM1091 122h3v1h-3zM839 123h7v1h-7zM856 123h2v1h-2zM1052 123h8v1h-8zM1088 123h3v1h-3zM835 124h4v1h-4zM858 124h2v1h-2zM1046 124h6v1h-6zM1060 124h4v1h-4zM1086 124h2v1h-2zM833 125h2v1h-2zM860 125h1v1h-1zM1043 125h3v1h-3zM1064 125h3v1h-3zM1068 125h18v1h-18zM832 126h1v1h-1zM861 126h1v1h-1zM1040 126h3v1h-3zM1067 126h1v1h-1zM830 127h2v1h-2zM862 127h2v1h-2zM1037 127h3v1h-3zM828 128h2v1h-2zM864 128h1v1h-1zM1034 128h3v1h-3zM827 129h1v1h-1zM865 129h1v1h-1zM1032 129h2v1h-2zM826 130h1v1h-1zM866 130h1v1h-1zM1029 130h3v1h-3zM825 131h1v1h-1zM867 131h2v1h-2zM1027 131h2v1h-2zM869 132h1v1h-1zM1025 132h2v1h-2zM824 132h1v2h-1zM870 133h1v1h-1zM1023 133h2v1h-2zM823 134h1v1h-1zM871 134h1v1h-1zM1021 134h2v1h-2zM822 135h1v1h-1zM872 135h1v1h-1zM1019 135h2v1h-2zM821 136h1v1h-1zM873 136h1v1h-1zM1017 136h2v1h-2zM820 137h1v1h-1zM874 137h1v1h-1zM1014 137h3v1h-3zM875 138h1v1h-1zM1012 138h2v1h-2zM819 138h1v2h-1zM876 139h1v1h-1zM1010 139h2v1h-2zM818 140h1v1h-1zM877 140h1v1h-1zM1008 140h2v1h-2zM878 141h1v1h-1zM1006 141h2v1h-2zM817 141h1v2h-1zM879 142h1v1h-1zM1004 142h2v1h-2zM816 143h1v1h-1zM880 143h1v1h-1zM1002 143h2v1h-2zM815 144h1v1h-1zM881 144h1v1h-1zM947 144h21v1h-21zM1000 144h2v1h-2zM882 145h1v1h-1zM941 145h6v1h-6zM968 145h3v1h-3zM998 145h2v1h-2zM814 145h1v2h-1zM883 146h2v1h-2zM939 146h2v1h-2zM971 146h2v1h-2zM996 146h2v1h-2zM885 147h1v1h-1zM937 147h2v1h-2zM973 147h1v1h-1zM994 147h2v1h-2zM813 147h1v2h-1zM886 148h1v1h-1zM935 148h2v1h-2zM974 148h1v1h-1zM992 148h2v1h-2zM887 149h2v1h-2zM931 149h4v1h-4zM975 149h2v1h-2zM990 149h2v1h-2zM812 149h1v2h-1zM889 150h2v1h-2zM926 150h5v1h-5zM977 150h2v1h-2zM985 150h5v1h-5zM891 151h2v1h-2zM894 151h32v1h-32zM979 151h6v1h-6zM811 151h1v2h-1zM893 152h1v1h-1zM810 153h1v2h-1zM809 155h1v3h-1zM808 158h1v2h-1zM807 160h1v2h-1zM806 162h1v2h-1zM805 164h1v3h-1zM804 167h1v2h-1zM803 169h1v3h-1zM802 172h1v2h-1zM801 174h1v3h-1zM800 177h1v2h-1zM799 179h1v3h-1zM798 182h1v2h-1zM797 184h1v3h-1zM796 187h1v2h-1zM55 189h16v1h-16zM795 189h1v2h-1zM51 190h4v1h-4zM71 190h3v1h-3zM3 191h8v1h-8zM47 191h4v1h-4zM74 191h3v1h-3zM794 191h1v2h-1zM11 192h6v1h-6zM43 192h4v1h-4zM77 192h2v1h-2zM17 193h3v1h-3zM39 193h4v1h-4zM79 193h3v1h-3zM793 193h1v2h-1zM20 194h4v1h-4zM35 194h4v1h-4zM82 194h2v1h-2zM24 195h6v1h-6zM31 195h4v1h-4zM84 195h2v1h-2zM792 195h1v2h-1zM30 196h1v1h-1zM86 196h2v1h-2zM88 197h2v1h-2zM791 197h1v1h-1zM90 198h1v1h-1zM790 198h1v2h-1zM91 199h2v1h-2zM93 200h2v1h-2zM789 200h1v1h-1zM95 201h1v1h-1zM788 201h1v1h-1zM96 202h2v1h-2zM787 202h1v2h-1zM98 203h2v1h-2zM100 204h2v1h-2zM786 204h1v1h-1zM102 205h2v1h-2zM785 205h1v1h-1zM104 206h2v1h-2zM784 206h1v1h-1zM106 207h2v1h-2zM783 207h1v1h-1zM108 208h2v1h-2zM782 208h1v1h-1zM110 209h2v1h-2zM781 209h1v1h-1zM112 210h2v1h-2zM779 210h2v1h-2zM114 211h3v1h-3zM778 211h1v1h-1zM117 212h2v1h-2zM777 212h1v1h-1zM119 213h2v1h-2zM776 213h1v1h-1zM121 214h3v1h-3zM775 214h1v1h-1zM124 215h2v1h-2zM205 215h8v1h-8zM774 215h1v1h-1zM126 216h2v1h-2zM203 216h2v1h-2zM213 216h1v1h-1zM773 216h1v1h-1zM128 217h2v1h-2zM202 217h1v1h-1zM214 217h1v1h-1zM772 217h1v1h-1zM130 218h2v1h-2zM201 218h1v1h-1zM215 218h1v1h-1zM771 218h1v1h-1zM132 219h2v1h-2zM199 219h2v1h-2zM216 219h1v1h-1zM769 219h2v1h-2zM134 220h2v1h-2zM198 220h1v1h-1zM217 220h1v1h-1zM768 220h1v1h-1zM136 221h2v1h-2zM197 221h1v1h-1zM218 221h1v1h-1zM767 221h1v1h-1zM138 222h2v1h-2zM195 222h2v1h-2zM219 222h1v1h-1zM766 222h1v1h-1zM140 223h1v1h-1zM194 223h1v1h-1zM220 223h1v1h-1zM765 223h1v1h-1zM141 224h1v1h-1zM193 224h1v1h-1zM221 224h2v1h-2zM764 224h1v1h-1zM142 225h1v1h-1zM191 225h2v1h-2zM223 225h2v1h-2zM762 225h2v1h-2zM143 226h1v1h-1zM190 226h1v1h-1zM225 226h2v1h-2zM761 226h1v1h-1zM189 227h1v1h-1zM227 227h2v1h-2zM760 227h1v1h-1zM144 227h1v2h-1zM188 228h1v1h-1zM758 228h2v1h-2zM229 228h1v2h-1zM145 229h1v1h-1zM187 229h1v1h-1zM757 229h1v1h-1zM146 230h1v1h-1zM186 230h1v1h-1zM756 230h1v1h-1zM230 230h1v2h-1zM147 231h1v1h-1zM185 231h1v1h-1zM752 231h4v1h-4zM148 232h1v1h-1zM184 232h1v1h-1zM749 232h3v1h-3zM231 232h1v2h-1zM149 233h2v1h-2zM183 233h1v1h-1zM726 233h9v1h-9zM746 233h3v1h-3zM151 234h1v1h-1zM182 234h1v1h-1zM724 234h2v1h-2zM735 234h4v1h-4zM742 234h4v1h-4zM232 234h1v2h-1zM152 235h2v1h-2zM181 235h1v1h-1zM722 235h2v1h-2zM739 235h3v1h-3zM154 236h2v1h-2zM179 236h2v1h-2zM720 236h2v1h-2zM233 236h1v2h-1zM156 237h1v1h-1zM176 237h3v1h-3zM719 237h1v1h-1zM157 238h2v1h-2zM172 238h4v1h-4zM718 238h1v1h-1zM234 238h1v2h-1zM159 239h1v1h-1zM169 239h3v1h-3zM717 239h1v1h-1zM160 240h2v1h-2zM166 240h3v1h-3zM716 240h1v1h-1zM235 240h1v3h-1zM162 241h1v1h-1zM164 241h2v1h-2zM714 241h2v1h-2zM163 242h1v1h-1zM713 242h1v1h-1zM712 243h1v1h-1zM236 243h1v3h-1zM711 244h1v1h-1zM710 245h1v1h-1zM709 246h1v1h-1zM237 246h1v3h-1zM651 247h4v1h-4zM708 247h1v1h-1zM648 248h3v1h-3zM655 248h2v1h-2zM707 248h1v1h-1zM646 249h2v1h-2zM657 249h2v1h-2zM706 249h1v1h-1zM238 249h1v3h-1zM642 250h4v1h-4zM659 250h2v1h-2zM705 250h1v2h-1zM639 251h3v1h-3zM661 251h1v1h-1zM636 252h3v1h-3zM662 252h2v1h-2zM704 252h1v1h-1zM239 252h1v3h-1zM575 253h11v1h-11zM634 253h2v1h-2zM664 253h1v1h-1zM703 253h1v1h-1zM572 254h3v1h-3zM586 254h2v1h-2zM632 254h2v1h-2zM665 254h1v1h-1zM702 254h1v1h-1zM570 255h2v1h-2zM588 255h2v1h-2zM630 255h2v1h-2zM666 255h1v1h-1zM701 255h1v1h-1zM240 255h1v3h-1zM569 256h1v1h-1zM590 256h2v1h-2zM629 256h1v1h-1zM667 256h2v1h-2zM700 256h1v1h-1zM568 257h1v1h-1zM592 257h1v1h-1zM628 257h1v1h-1zM669 257h1v1h-1zM699 257h1v1h-1zM567 258h1v1h-1zM593 258h2v1h-2zM627 258h1v1h-1zM670 258h1v1h-1zM698 258h1v1h-1zM241 258h1v4h-1zM566 259h1v1h-1zM595 259h2v1h-2zM626 259h1v1h-1zM671 259h2v1h-2zM696 259h2v1h-2zM565 260h1v1h-1zM597 260h2v1h-2zM624 260h2v1h-2zM673 260h2v1h-2zM695 260h1v1h-1zM564 261h1v1h-1zM599 261h1v1h-1zM623 261h1v1h-1zM675 261h2v1h-2zM694 261h1v1h-1zM563 262h1v1h-1zM600 262h2v1h-2zM622 262h1v1h-1zM677 262h2v1h-2zM693 262h1v1h-1zM242 262h1v4h-1zM562 263h1v1h-1zM602 263h1v1h-1zM621 263h1v1h-1zM679 263h2v1h-2zM692 263h1v1h-1zM561 264h1v1h-1zM603 264h1v1h-1zM620 264h1v1h-1zM681 264h1v1h-1zM691 264h1v1h-1zM560 265h1v1h-1zM604 265h1v1h-1zM618 265h2v1h-2zM682 265h9v1h-9zM605 266h1v1h-1zM617 266h1v1h-1zM559 266h1v2h-1zM243 266h1v4h-1zM606 267h2v1h-2zM615 267h2v1h-2zM558 268h1v1h-1zM608 268h1v1h-1zM614 268h1v1h-1zM557 269h1v1h-1zM609 269h2v1h-2zM612 269h2v1h-2zM556 270h1v1h-1zM611 270h1v1h-1zM244 270h1v4h-1zM555 271h1v1h-1zM554 272h1v1h-1zM553 273h1v2h-1zM245 274h1v4h-1zM552 275h1v1h-1zM551 276h1v1h-1zM550 277h1v2h-1zM246 278h1v5h-1zM549 279h1v1h-1zM548 280h1v1h-1zM547 281h1v1h-1zM546 282h1v2h-1zM247 283h1v4h-1zM545 284h1v1h-1zM544 285h1v1h-1zM460 286h11v1h-11zM543 286h1v1h-1zM459 287h1v1h-1zM471 287h2v1h-2zM482 287h5v1h-5zM542 287h1v2h-1zM248 287h1v4h-1zM458 288h1v1h-1zM473 288h2v1h-2zM476 288h6v1h-6zM487 288h4v1h-4zM457 289h1v1h-1zM475 289h1v1h-1zM491 289h4v1h-4zM541 289h1v1h-1zM456 290h1v1h-1zM495 290h3v1h-3zM526 290h15v1h-15zM498 291h3v1h-3zM519 291h7v1h-7zM455 291h1v2h-1zM249 291h1v4h-1zM501 292h3v1h-3zM513 292h6v1h-6zM454 293h1v1h-1zM504 293h3v1h-3zM508 293h5v1h-5zM453 294h1v1h-1zM507 294h1v1h-1zM452 295h1v1h-1zM250 295h1v4h-1zM451 296h1v1h-1zM450 297h1v1h-1zM449 298h1v2h-1zM251 299h1v2h-1zM448 300h1v1h-1zM447 301h1v1h-1zM252 301h1v2h-1zM446 302h1v2h-1zM253 303h1v2h-1zM445 304h1v1h-1zM444 305h1v1h-1zM254 305h1v2h-1zM443 306h1v2h-1zM255 307h1v2h-1zM442 308h1v1h-1zM256 309h1v2h-1zM441 309h1v2h-1zM257 311h1v2h-1zM440 311h1v2h-1zM439 313h1v1h-1zM258 313h1v2h-1zM438 314h1v2h-1zM259 315h1v3h-1zM437 316h1v2h-1zM436 318h1v2h-1zM260 318h1v3h-1zM435 320h1v2h-1zM261 321h1v3h-1zM434 322h1v2h-1zM433 324h1v3h-1zM262 324h1v4h-1zM432 327h1v2h-1zM263 328h1v3h-1zM431 329h1v2h-1zM264 331h1v3h-1zM430 331h1v3h-1zM429 334h1v2h-1zM265 334h1v3h-1zM428 336h1v3h-1zM266 337h1v4h-1zM427 339h1v3h-1zM267 341h1v4h-1zM426 342h1v2h-1zM425 344h1v2h-1zM268 345h1v4h-1zM370 346h1v1h-1zM424 346h1v2h-1zM368 347h2v1h-2zM371 347h2v1h-2zM366 348h2v1h-2zM373 348h2v1h-2zM423 348h1v2h-1zM365 349h1v1h-1zM375 349h2v1h-2zM269 349h1v4h-1zM363 350h2v1h-2zM377 350h2v1h-2zM422 350h1v2h-1zM361 351h2v1h-2zM379 351h1v1h-1zM360 352h1v1h-1zM380 352h1v1h-1zM421 352h1v1h-1zM359 353h1v1h-1zM381 353h1v1h-1zM420 353h1v2h-1zM270 353h1v4h-1zM358 354h1v2h-1zM382 354h1v2h-1zM419 355h1v2h-1zM357 356h1v1h-1zM383 356h1v1h-1zM356 357h1v1h-1zM384 357h1v1h-1zM418 357h1v1h-1zM271 357h1v3h-1zM385 358h1v1h-1zM417 358h1v1h-1zM355 358h1v2h-1zM386 359h1v1h-1zM416 359h1v1h-1zM354 360h1v1h-1zM387 360h1v1h-1zM415 360h1v1h-1zM272 360h1v4h-1zM353 361h1v1h-1zM388 361h1v1h-1zM414 361h1v2h-1zM389 362h1v1h-1zM352 362h1v2h-1zM390 363h1v1h-1zM413 363h1v1h-1zM351 364h1v1h-1zM391 364h1v1h-1zM412 364h1v1h-1zM273 364h1v3h-1zM392 365h1v1h-1zM411 365h1v1h-1zM350 365h1v2h-1zM393 366h1v1h-1zM410 366h1v1h-1zM394 367h1v1h-1zM408 367h2v1h-2zM274 367h1v2h-1zM349 367h1v2h-1zM395 368h2v1h-2zM406 368h2v1h-2zM397 369h4v1h-4zM404 369h2v1h-2zM348 369h1v2h-1zM275 369h1v3h-1zM401 370h3v1h-3zM347 371h1v2h-1zM276 372h1v2h-1zM346 373h1v2h-1zM277 374h1v3h-1zM345 375h1v2h-1zM278 377h1v2h-1zM344 377h1v3h-1zM279 379h1v3h-1zM343 380h1v3h-1zM280 382h1v2h-1zM342 383h1v3h-1zM281 384h1v3h-1zM341 386h1v3h-1zM282 387h1v2h-1zM283 389h1v2h-1zM340 389h1v3h-1zM284 391h1v2h-1zM339 392h1v3h-1zM285 393h1v2h-1zM286 395h1v1h-1zM338 395h1v2h-1zM287 396h1v2h-1zM337 397h1v2h-1zM288 398h1v1h-1zM289 399h1v2h-1zM336 399h1v3h-1zM290 401h1v2h-1zM335 402h1v2h-1zM291 403h1v2h-1zM334 404h1v3h-1zM292 405h1v2h-1zM293 407h1v2h-1zM333 407h1v2h-1zM294 409h1v2h-1zM332 409h1v2h-1zM331 411h1v2h-1zM295 411h1v3h-1zM330 413h1v2h-1zM296 414h1v2h-1zM329 415h1v1h-1zM328 416h1v1h-1zM297 416h1v2h-1zM327 417h1v2h-1zM298 418h1v2h-1zM326 419h1v1h-1zM325 420h1v1h-1zM299 420h1v2h-1zM324 421h1v2h-1zM300 422h1v2h-1zM323 423h1v1h-1zM321 424h2v1h-2zM301 424h1v2h-1zM319 425h2v1h-2zM302 426h1v1h-1zM317 426h2v1h-2zM315 427h2v1h-2zM303 427h1v2h-1zM314 428h1v1h-1zM304 429h1v1h-1zM313 429h1v1h-1zM312 430h1v1h-1zM305 430h1v2h-1zM310 431h2v1h-2zM309 432h1v1h-1zM306 432h1v2h-1zM308 433h1v1h-1zM307 434h1v1h-1z" fill="#ff9c00"/>
<rect x="3" y="59" width="1592" height="2" fill="#ff0000"/>
<rect x="2" y="57" width="6" height="6" fill="#ff0000"/>
<rect x="4" y="59" width="2" height="2" fill="#fff"/>
<rect x="1589" y="57" width="6" height="6" fill="#ff0000"/>
<rect x="1591" y="59" width="2" height="2" fill="#fff"/>
<rect x="3" y="84" width="1592" height="2" fill="#00ff00"/>
<rect x="2" y="82" width="6" height="6" fill="#00ff00"/>
<rect x="4" y="84" width="2" height="2" fill="#fff"/>
<rect x="1589" y="82" width="6" height="6" fill="#00ff00"/>
<rect x="1591" y="84" width="2" height="2" fill="#fff"/>
<rect x="3" y="112" width="1592" height="2" fill="#0000ff"/>
<rect x="2" y="110" width="6" height="6" fill="#0000ff"/>
<rect x="4" y="112" width="2" height="2" fill="#fff"/>
<rect x="1589" y="110" width="6" height="6" fill="#0000ff"/>
<rect x="1591" y="112" width="2" height="2" fill="#fff"/>
<rect x="3" y="139" width="1592" height="2" fill="#0000ff"/>
<rect x="2" y="137" width="6" height="6" fill="#0000ff"/>
<rect x="4" y="139" width="2" height="2" fill="#fff"/>
<rect x="1589" y="137" width="6" height="6" fill="#0000ff"/>
<rect x="1591" y="139" width="2" height="2" fill="#fff"/>
<rect x="3" y="166" width="1592" height="2" fill="#0000ff"/>
<rect x="2" y="164" width="6" height="6" fill="#0000ff"/>
<rect x="4" y="166" width="2" height="2" fill="#fff"/>
<rect x="1589" y="164" width="6" height="6" fill="#0000ff"/>
<rect x="1591" y="166" width="2" height="2" fill="#fff"/>
<rect x="3" y="201" width="1592" height="2" fill="#0000ff"/>
<rect x="3" y="247" width="1592" height="2" fill="#0000ff"/>
<rect x="2" y="245" width="6" height="6" fill="#0000ff"/>
<rect x="4" y="247" width="2" height="2" fill="#fff"/>
<rect x="1589" y="245" width="6" height="6" fill="#0000ff"/>
<rect x="1591" y="247" width="2" height="2" fill="#fff"/>
<rect x="1271" y="24" width="9" height="1" fill="#c0c0c0"/>
<rect x="1272" y="25" width="7" height="1" fill="#c0c0c0"/>
<rect x="1273" y="26" width="5" height="1" fill="#c0c0c0"/>
<rect x="1274" y="27" width="3" height="1" fill="#c0c0c0"/>
<rect x="1275" y="28" width="1" height="1" fill="#c0c0c0"/>
</g>
<rect x="1596" y="30" width="2" height="1" fill="#000"/>
<text x="1601.1" y="34" font-size="9.9" fill="#000" textLength="32.6" lengthAdjust="spacingAndGlyphs" stroke="#000" stroke-width="0.25">0.73095</text>
<rect x="1596" y="63" width="2" height="1" fill="#000"/>
<text x="1601.1" y="67" font-size="9.9" fill="#000" textLength="32.6" lengthAdjust="spacingAndGlyphs" stroke="#000" stroke-width="0.25">0.71870</text>
<rect x="1596" y="96" width="2" height="1" fill="#000"/>
<text x="1601.1" y="100" font-size="9.9" fill="#000" textLength="32.6" lengthAdjust="spacingAndGlyphs" stroke="#000" stroke-width="0.25">0.70645</text>
<rect x="1596" y="129" width="2" height="1" fill="#000"/>
<text x="1601.1" y="133" font-size="9.9" fill="#000" textLength="32.6" lengthAdjust="spacingAndGlyphs" stroke="#000" stroke-width="0.25">0.69420</text>
<rect x="1596" y="162" width="2" height="1" fill="#000"/>
<text x="1601.1" y="166" font-size="9.9" fill="#000" textLength="32.6" lengthAdjust="spacingAndGlyphs" stroke="#000" stroke-width="0.25">0.68195</text>
<rect x="1596" y="195" width="2" height="1" fill="#000"/>
<text x="1601.1" y="199" font-size="9.9" fill="#000" textLength="32.6" lengthAdjust="spacingAndGlyphs" stroke="#000" stroke-width="0.25">0.66970</text>
<rect x="1596" y="228" width="2" height="1" fill="#000"/>
<text x="1601.1" y="232" font-size="9.9" fill="#000" textLength="32.6" lengthAdjust="spacingAndGlyphs" stroke="#000" stroke-width="0.25">0.65745</text>
<rect x="1596" y="261" width="2" height="1" fill="#000"/>
<text x="1601.1" y="265" font-size="9.9" fill="#000" textLength="32.6" lengthAdjust="spacingAndGlyphs" stroke="#000" stroke-width="0.25">0.64520</text>
<rect x="1596" y="294" width="2" height="1" fill="#000"/>
<text x="1601.1" y="298" font-size="9.9" fill="#000" textLength="32.6" lengthAdjust="spacingAndGlyphs" stroke="#000" stroke-width="0.25">0.63295</text>
<rect x="1596" y="327" width="2" height="1" fill="#000"/>
<text x="1601.1" y="331" font-size="9.9" fill="#000" textLength="32.6" lengthAdjust="spacingAndGlyphs" stroke="#000" stroke-width="0.25">0.62070</text>
<rect x="1596" y="360" width="2" height="1" fill="#000"/>
<text x="1601.1" y="364" font-size="9.9" fill="#000" textLength="32.6" lengthAdjust="spacingAndGlyphs" stroke="#000" stroke-width="0.25">0.60845</text>
<rect x="1596" y="393" width="2" height="1" fill="#000"/>
<text x="1601.1" y="397" font-size="9.9" fill="#000" textLength="32.6" lengthAdjust="spacingAndGlyphs" stroke="#000" stroke-width="0.25">0.59620</text>
<rect x="1596" y="426" width="2" height="1" fill="#000"/>
<text x="1601.1" y="430" font-size="9.9" fill="#000" textLength="32.6" lengthAdjust="spacingAndGlyphs" stroke="#000" stroke-width="0.25">0.58395</text>
<rect x="1596" y="459" width="2" height="1" fill="#000"/>
<text x="1601.1" y="463" font-size="9.9" fill="#000" textLength="32.6" lengthAdjust="spacingAndGlyphs" stroke="#000" stroke-width="0.25">0.57205</text>
<rect x="1596" y="492" width="2" height="1" fill="#000"/>
<text x="1601.1" y="496" font-size="9.9" fill="#000" textLength="32.6" lengthAdjust="spacingAndGlyphs" stroke="#000" stroke-width="0.25">0.55980</text>
<rect x="1596" y="525" width="2" height="1" fill="#000"/>
<text x="1601.1" y="529" font-size="9.9" fill="#000" textLength="32.6" lengthAdjust="spacingAndGlyphs" stroke="#000" stroke-width="0.25">0.54755</text>
<rect x="1597" y="54" width="41" height="11" fill="#ff0000"/>
<text x="1601.1" y="63" font-size="9.9" fill="#fff" textLength="32.6" lengthAdjust="spacingAndGlyphs" stroke="#fff" stroke-width="0.25">0.72001</text>
<rect x="1597" y="79" width="41" height="11" fill="#00ff00"/>
<text x="1601.1" y="88" font-size="9.9" fill="#fff" textLength="32.6" lengthAdjust="spacingAndGlyphs" stroke="#fff" stroke-width="0.25">0.71046</text>
<rect x="1597" y="107" width="41" height="11" fill="#0000ff"/>
<text x="1601.1" y="116" font-size="9.9" fill="#fff" textLength="32.6" lengthAdjust="spacingAndGlyphs" stroke="#fff" stroke-width="0.25">0.70007</text>
<rect x="1597" y="134" width="41" height="11" fill="#0000ff"/>
<text x="1601.1" y="143" font-size="9.9" fill="#fff" textLength="32.6" lengthAdjust="spacingAndGlyphs" stroke="#fff" stroke-width="0.25">0.69010</text>
<rect x="1597" y="161" width="41" height="11" fill="#0000ff"/>
<text x="1601.1" y="170" font-size="9.9" fill="#fff" textLength="32.6" lengthAdjust="spacingAndGlyphs" stroke="#fff" stroke-width="0.25">0.68017</text>
<rect x="1597" y="196" width="41" height="11" fill="#0000ff"/>
<text x="1601.1" y="205" font-size="9.9" fill="#fff" textLength="32.6" lengthAdjust="spacingAndGlyphs" stroke="#fff" stroke-width="0.25">0.66706</text>
<rect x="1597" y="242" width="41" height="11" fill="#0000ff"/>
<text x="1601.1" y="251" font-size="9.9" fill="#fff" textLength="32.6" lengthAdjust="spacingAndGlyphs" stroke="#fff" stroke-width="0.25">0.65020</text>
<rect x="1597" y="68" width="41" height="11" fill="#000"/>
<text x="1601.1" y="77" font-size="9.9" fill="#fff" textLength="32.6" lengthAdjust="spacingAndGlyphs" stroke="#fff" stroke-width="0.25">0.71487</text>
<g fill="#000" shape-rendering="crispEdges"><rect x="6" y="29" width="7" height="1"/><rect x="7" y="30" width="5" height="1"/><rect x="8" y="31" width="3" height="1"/><rect x="9" y="32" width="1" height="1"/></g>
<text x="18.6" y="35" font-size="9.9" fill="#000" textLength="65" lengthAdjust="spacingAndGlyphs" stroke="#000" stroke-width="0.25">AUDUSD,Daily</text>
<text x="90.0" y="35" font-size="9.9" fill="#000" textLength="33" lengthAdjust="spacingAndGlyphs" stroke="#000" stroke-width="0.25">0.71608</text>
<text x="125.9" y="35" font-size="9.9" fill="#000" textLength="33" lengthAdjust="spacingAndGlyphs" stroke="#000" stroke-width="0.25">0.71644</text>
<text x="161.8" y="35" font-size="9.9" fill="#000" textLength="33" lengthAdjust="spacingAndGlyphs" stroke="#000" stroke-width="0.25">0.71437</text>
<text x="197.7" y="35" font-size="9.9" fill="#000" textLength="33" lengthAdjust="spacingAndGlyphs" stroke="#000" stroke-width="0.25">0.71487</text>
<g shape-rendering="crispEdges">
<line x1="3" y1="558.5" x2="1595" y2="558.5" stroke="#c0c0c0" stroke-width="1" stroke-dasharray="3 3"/>
<line x1="3" y1="594.5" x2="1595" y2="594.5" stroke="#c0c0c0" stroke-width="1" stroke-dasharray="3 3"/>
<path d="M818 552h2v1h-2zM1139 552h2v1h-2zM812 553h6v1h-6zM820 553h4v1h-4zM834 553h2v1h-2zM1135 553h4v1h-4zM1141 553h4v1h-4zM802 554h10v1h-10zM824 554h10v1h-10zM836 554h3v1h-3zM1132 554h3v1h-3zM1145 554h3v1h-3zM798 555h4v1h-4zM839 555h2v1h-2zM847 555h5v1h-5zM1131 555h1v1h-1zM1148 555h1v1h-1zM795 556h3v1h-3zM841 556h6v1h-6zM1130 556h1v1h-1zM1149 556h1v1h-1zM1179 556h8v1h-8zM852 556h1v2h-1zM792 557h3v1h-3zM1129 557h1v1h-1zM1150 557h1v1h-1zM1175 557h4v1h-4zM1187 557h2v1h-2zM790 558h2v1h-2zM853 558h1v1h-1zM1128 558h1v1h-1zM1171 558h4v1h-4zM1189 558h2v1h-2zM1242 558h2v1h-2zM1151 558h1v2h-1zM788 559h2v1h-2zM854 559h1v1h-1zM1168 559h3v1h-3zM1191 559h2v1h-2zM1235 559h7v1h-7zM1244 559h1v1h-1zM1127 559h1v2h-1zM786 560h2v1h-2zM1152 560h1v1h-1zM1166 560h2v1h-2zM1193 560h1v1h-1zM1202 560h2v1h-2zM1234 560h1v1h-1zM855 560h1v2h-1zM1245 560h1v2h-1zM563 561h2v1h-2zM785 561h1v1h-1zM1126 561h1v1h-1zM1153 561h1v1h-1zM1162 561h4v1h-4zM1194 561h8v1h-8zM1204 561h4v1h-4zM1232 561h2v1h-2zM559 562h4v1h-4zM565 562h4v1h-4zM783 562h2v1h-2zM856 562h1v1h-1zM1125 562h1v1h-1zM1154 562h1v1h-1zM1156 562h6v1h-6zM1208 562h4v1h-4zM1230 562h2v1h-2zM1246 562h1v1h-1zM458 563h2v1h-2zM555 563h4v1h-4zM569 563h3v1h-3zM782 563h1v1h-1zM857 563h1v1h-1zM1092 563h10v1h-10zM1124 563h1v1h-1zM1155 563h1v1h-1zM1212 563h1v1h-1zM1229 563h1v1h-1zM1247 563h1v1h-1zM454 564h4v1h-4zM460 564h1v1h-1zM551 564h4v1h-4zM572 564h1v1h-1zM707 564h1v1h-1zM746 564h3v1h-3zM763 564h1v1h-1zM781 564h1v1h-1zM939 564h1v1h-1zM1025 564h10v1h-10zM1075 564h1v1h-1zM1089 564h3v1h-3zM1102 564h3v1h-3zM1114 564h10v1h-10zM1213 564h1v1h-1zM1227 564h2v1h-2zM1248 564h1v1h-1zM858 564h1v2h-1zM448 565h6v1h-6zM461 565h1v1h-1zM548 565h3v1h-3zM573 565h1v1h-1zM627 565h2v1h-2zM703 565h4v1h-4zM708 565h2v1h-2zM745 565h1v1h-1zM749 565h2v1h-2zM761 565h2v1h-2zM764 565h4v1h-4zM778 565h3v1h-3zM936 565h3v1h-3zM940 565h1v1h-1zM1022 565h3v1h-3zM1035 565h13v1h-13zM1073 565h2v1h-2zM1076 565h4v1h-4zM1086 565h3v1h-3zM1105 565h9v1h-9zM1214 565h1v1h-1zM1226 565h1v1h-1zM1249 565h1v2h-1zM442 566h6v1h-6zM462 566h1v1h-1zM546 566h2v1h-2zM574 566h1v1h-1zM623 566h4v1h-4zM629 566h6v1h-6zM699 566h4v1h-4zM710 566h2v1h-2zM743 566h2v1h-2zM751 566h2v1h-2zM759 566h2v1h-2zM768 566h3v1h-3zM772 566h6v1h-6zM859 566h1v1h-1zM934 566h2v1h-2zM941 566h1v1h-1zM1010 566h12v1h-12zM1048 566h12v1h-12zM1071 566h2v1h-2zM1080 566h3v1h-3zM1084 566h2v1h-2zM1215 566h1v1h-1zM1224 566h2v1h-2zM436 567h6v1h-6zM463 567h1v1h-1zM499 567h1v1h-1zM544 567h2v1h-2zM575 567h1v1h-1zM620 567h3v1h-3zM635 567h2v1h-2zM696 567h3v1h-3zM712 567h2v1h-2zM742 567h1v1h-1zM753 567h1v1h-1zM757 567h2v1h-2zM771 567h1v1h-1zM860 567h3v1h-3zM891 567h10v1h-10zM931 567h3v1h-3zM942 567h1v1h-1zM1006 567h4v1h-4zM1060 567h4v1h-4zM1069 567h2v1h-2zM1083 567h1v1h-1zM1216 567h1v1h-1zM1223 567h1v1h-1zM1250 567h1v1h-1zM428 568h8v1h-8zM464 568h1v1h-1zM495 568h4v1h-4zM500 568h1v1h-1zM543 568h1v1h-1zM576 568h1v1h-1zM618 568h2v1h-2zM637 568h2v1h-2zM694 568h2v1h-2zM714 568h2v1h-2zM741 568h1v1h-1zM754 568h3v1h-3zM863 568h2v1h-2zM887 568h4v1h-4zM901 568h2v1h-2zM929 568h2v1h-2zM943 568h1v1h-1zM996 568h10v1h-10zM1064 568h5v1h-5zM1217 568h1v1h-1zM1221 568h2v1h-2zM1251 568h1v1h-1zM425 569h3v1h-3zM465 569h2v1h-2zM492 569h3v1h-3zM501 569h1v1h-1zM523 569h2v1h-2zM541 569h2v1h-2zM577 569h1v1h-1zM603 569h1v1h-1zM617 569h1v1h-1zM639 569h2v1h-2zM651 569h1v1h-1zM692 569h2v1h-2zM716 569h3v1h-3zM738 569h3v1h-3zM865 569h4v1h-4zM882 569h5v1h-5zM903 569h2v1h-2zM927 569h2v1h-2zM944 569h1v1h-1zM992 569h4v1h-4zM1218 569h1v1h-1zM1220 569h1v1h-1zM1252 569h4v1h-4zM423 570h2v1h-2zM467 570h1v1h-1zM481 570h11v1h-11zM502 570h1v1h-1zM521 570h2v1h-2zM525 570h6v1h-6zM540 570h1v1h-1zM578 570h1v1h-1zM600 570h3v1h-3zM604 570h2v1h-2zM615 570h2v1h-2zM641 570h1v1h-1zM647 570h4v1h-4zM652 570h2v1h-2zM690 570h2v1h-2zM719 570h2v1h-2zM732 570h6v1h-6zM869 570h6v1h-6zM876 570h6v1h-6zM905 570h1v1h-1zM925 570h2v1h-2zM945 570h1v1h-1zM988 570h4v1h-4zM1219 570h1v1h-1zM1256 570h4v1h-4zM421 571h2v1h-2zM468 571h4v1h-4zM478 571h3v1h-3zM519 571h2v1h-2zM531 571h9v1h-9zM579 571h4v1h-4zM598 571h2v1h-2zM606 571h2v1h-2zM614 571h1v1h-1zM642 571h5v1h-5zM654 571h2v1h-2zM689 571h1v1h-1zM721 571h2v1h-2zM724 571h8v1h-8zM875 571h1v1h-1zM906 571h19v1h-19zM946 571h1v1h-1zM986 571h2v1h-2zM503 571h1v2h-1zM418 572h3v1h-3zM472 572h3v1h-3zM476 572h2v1h-2zM517 572h2v1h-2zM583 572h15v1h-15zM608 572h2v1h-2zM613 572h1v1h-1zM656 572h2v1h-2zM688 572h1v1h-1zM723 572h1v1h-1zM947 572h10v1h-10zM984 572h2v1h-2zM415 573h3v1h-3zM475 573h1v1h-1zM504 573h1v1h-1zM515 573h2v1h-2zM610 573h3v1h-3zM658 573h2v1h-2zM687 573h1v1h-1zM957 573h16v1h-16zM982 573h2v1h-2zM412 574h3v1h-3zM505 574h1v1h-1zM511 574h4v1h-4zM660 574h3v1h-3zM686 574h1v1h-1zM973 574h6v1h-6zM980 574h2v1h-2zM410 575h2v1h-2zM506 575h1v1h-1zM508 575h3v1h-3zM663 575h2v1h-2zM685 575h1v1h-1zM979 575h1v1h-1zM211 575h1v2h-1zM207 576h4v1h-4zM409 576h1v1h-1zM507 576h1v1h-1zM665 576h2v1h-2zM684 576h1v1h-1zM202 577h5v1h-5zM347 577h2v1h-2zM408 577h1v1h-1zM667 577h8v1h-8zM676 577h8v1h-8zM212 577h1v2h-1zM196 578h6v1h-6zM345 578h2v1h-2zM349 578h4v1h-4zM407 578h1v1h-1zM675 578h1v1h-1zM171 579h9v1h-9zM193 579h3v1h-3zM343 579h2v1h-2zM353 579h6v1h-6zM406 579h1v1h-1zM213 579h1v2h-1zM180 580h4v1h-4zM190 580h3v1h-3zM341 580h2v1h-2zM359 580h6v1h-6zM405 580h1v1h-1zM170 580h1v2h-1zM184 581h3v1h-3zM188 581h2v1h-2zM339 581h2v1h-2zM365 581h7v1h-7zM404 581h1v1h-1zM214 581h1v2h-1zM34 582h7v1h-7zM187 582h1v1h-1zM337 582h2v1h-2zM372 582h3v1h-3zM403 582h1v1h-1zM169 582h1v2h-1zM32 583h2v1h-2zM41 583h4v1h-4zM335 583h2v1h-2zM375 583h2v1h-2zM401 583h2v1h-2zM215 583h1v2h-1zM30 584h2v1h-2zM45 584h4v1h-4zM333 584h2v1h-2zM377 584h3v1h-3zM399 584h2v1h-2zM168 584h1v2h-1zM29 585h1v1h-1zM49 585h6v1h-6zM66 585h2v1h-2zM331 585h2v1h-2zM380 585h4v1h-4zM397 585h2v1h-2zM216 585h1v2h-1zM27 586h2v1h-2zM55 586h11v1h-11zM68 586h3v1h-3zM167 586h1v1h-1zM227 586h1v1h-1zM330 586h1v1h-1zM384 586h13v1h-13zM71 587h2v1h-2zM226 587h1v1h-1zM328 587h2v1h-2zM26 587h1v2h-1zM166 587h1v2h-1zM217 587h1v2h-1zM228 587h1v2h-1zM73 588h3v1h-3zM224 588h2v1h-2zM327 588h1v1h-1zM25 589h1v1h-1zM76 589h3v1h-3zM223 589h1v1h-1zM229 589h1v1h-1zM326 589h1v1h-1zM165 589h1v2h-1zM218 589h1v2h-1zM24 590h1v1h-1zM79 590h3v1h-3zM221 590h2v1h-2zM230 590h1v1h-1zM324 590h2v1h-2zM82 591h2v1h-2zM220 591h1v1h-1zM322 591h2v1h-2zM23 591h1v2h-1zM164 591h1v2h-1zM219 591h1v2h-1zM231 591h1v2h-1zM84 592h1v1h-1zM318 592h4v1h-4zM22 593h1v1h-1zM85 593h2v1h-2zM155 593h9v1h-9zM232 593h1v1h-1zM315 593h3v1h-3zM21 594h1v1h-1zM87 594h1v1h-1zM233 594h1v1h-1zM154 594h1v2h-1zM314 594h1v2h-1zM88 595h1v1h-1zM100 595h8v1h-8zM20 595h1v2h-1zM234 595h1v2h-1zM3 596h2v1h-2zM89 596h1v1h-1zM96 596h4v1h-4zM108 596h4v1h-4zM153 596h1v1h-1zM313 596h1v2h-1zM5 597h6v1h-6zM12 597h8v1h-8zM90 597h1v1h-1zM92 597h4v1h-4zM112 597h5v1h-5zM235 597h1v1h-1zM152 597h1v2h-1zM11 598h1v1h-1zM91 598h1v1h-1zM117 598h6v1h-6zM138 598h3v1h-3zM236 598h2v1h-2zM312 598h1v2h-1zM123 599h2v1h-2zM137 599h1v1h-1zM141 599h1v1h-1zM151 599h1v1h-1zM238 599h2v1h-2zM125 600h2v1h-2zM135 600h2v1h-2zM142 600h1v1h-1zM240 600h2v1h-2zM150 600h1v2h-1zM311 600h1v2h-1zM127 601h2v1h-2zM134 601h1v1h-1zM143 601h1v1h-1zM242 601h11v1h-11zM129 602h1v1h-1zM133 602h1v1h-1zM144 602h1v1h-1zM149 602h1v1h-1zM253 602h6v1h-6zM310 602h1v2h-1zM130 603h3v1h-3zM145 603h1v1h-1zM259 603h3v1h-3zM148 603h1v2h-1zM146 604h1v1h-1zM262 604h3v1h-3zM309 604h1v2h-1zM147 605h1v1h-1zM265 605h2v1h-2zM267 606h3v1h-3zM292 606h9v1h-9zM308 606h1v2h-1zM270 607h3v1h-3zM280 607h12v1h-12zM301 607h6v1h-6zM273 608h2v1h-2zM276 608h4v1h-4zM307 608h1v1h-1zM275 609h1v1h-1z" fill="#1e90ff"/>
</g>
<text x="7" y="543" font-size="9.9" fill="#000" textLength="67.5" lengthAdjust="spacingAndGlyphs" stroke="#000" stroke-width="0.25">RSI(14) 57.7234</text>
<rect x="1596" y="531" width="1" height="1" fill="#000"/>
<rect x="1596" y="621" width="1" height="1" fill="#000"/>
<rect x="1596" y="558" width="1" height="1" fill="#000"/>
<rect x="1596" y="594" width="1" height="1" fill="#000"/>
<text x="1599" y="541" font-size="9.9" fill="#000" textLength="14.3" lengthAdjust="spacingAndGlyphs" stroke="#000" stroke-width="0.25">100</text>
<text x="1599" y="562" font-size="9.9" fill="#000" textLength="9.3" lengthAdjust="spacingAndGlyphs" stroke="#000" stroke-width="0.25">70</text>
<text x="1599" y="598" font-size="9.9" fill="#000" textLength="9.3" lengthAdjust="spacingAndGlyphs" stroke="#000" stroke-width="0.25">30</text>
<text x="1599" y="619" font-size="9.9" fill="#000" textLength="4.6" lengthAdjust="spacingAndGlyphs" stroke="#000" stroke-width="0.25">0</text>
<g shape-rendering="crispEdges">
<rect x="3" y="661" width="1" height="9" fill="#c0c0c0"/>
<rect x="11" y="661" width="1" height="10" fill="#c0c0c0"/>
<rect x="19" y="661" width="1" height="10" fill="#c0c0c0"/>
<rect x="27" y="661" width="1" height="10" fill="#c0c0c0"/>
<rect x="35" y="661" width="1" height="9" fill="#c0c0c0"/>
<rect x="43" y="661" width="1" height="8" fill="#c0c0c0"/>
<rect x="51" y="661" width="1" height="8" fill="#c0c0c0"/>
<rect x="59" y="661" width="1" height="7" fill="#c0c0c0"/>
<rect x="67" y="661" width="1" height="7" fill="#c0c0c0"/>
<rect x="75" y="661" width="1" height="7" fill="#c0c0c0"/>
<rect x="83" y="661" width="1" height="7" fill="#c0c0c0"/>
<rect x="91" y="661" width="1" height="8" fill="#c0c0c0"/>
<rect x="99" y="661" width="1" height="8" fill="#c0c0c0"/>
<rect x="107" y="661" width="1" height="8" fill="#c0c0c0"/>
<rect x="115" y="661" width="1" height="9" fill="#c0c0c0"/>
<rect x="123" y="661" width="1" height="9" fill="#c0c0c0"/>
<rect x="131" y="661" width="1" height="10" fill="#c0c0c0"/>
<rect x="139" y="661" width="1" height="11" fill="#c0c0c0"/>
<rect x="147" y="661" width="1" height="14" fill="#c0c0c0"/>
<rect x="155" y="661" width="1" height="14" fill="#c0c0c0"/>
<rect x="163" y="661" width="1" height="14" fill="#c0c0c0"/>
<rect x="171" y="661" width="1" height="12" fill="#c0c0c0"/>
<rect x="179" y="661" width="1" height="10" fill="#c0c0c0"/>
<rect x="187" y="661" width="1" height="9" fill="#c0c0c0"/>
<rect x="195" y="661" width="1" height="8" fill="#c0c0c0"/>
<rect x="203" y="661" width="1" height="7" fill="#c0c0c0"/>
<rect x="211" y="661" width="1" height="6" fill="#c0c0c0"/>
<rect x="219" y="661" width="1" height="8" fill="#c0c0c0"/>
<rect x="227" y="661" width="1" height="8" fill="#c0c0c0"/>
<rect x="235" y="661" width="1" height="14" fill="#c0c0c0"/>
<rect x="243" y="661" width="1" height="19" fill="#c0c0c0"/>
<rect x="251" y="661" width="1" height="24" fill="#c0c0c0"/>
<rect x="259" y="661" width="1" height="27" fill="#c0c0c0"/>
<rect x="267" y="661" width="1" height="32" fill="#c0c0c0"/>
<rect x="275" y="661" width="1" height="39" fill="#c0c0c0"/>
<rect x="283" y="661" width="1" height="42" fill="#c0c0c0"/>
<rect x="291" y="661" width="1" height="45" fill="#c0c0c0"/>
<rect x="299" y="661" width="1" height="47" fill="#c0c0c0"/>
<rect x="307" y="661" width="1" height="50" fill="#c0c0c0"/>
<rect x="315" y="661" width="1" height="48" fill="#c0c0c0"/>
<rect x="323" y="661" width="1" height="46" fill="#c0c0c0"/>
<rect x="331" y="661" width="1" height="42" fill="#c0c0c0"/>
<rect x="339" y="661" width="1" height="37" fill="#c0c0c0"/>
<rect x="347" y="661" width="1" height="31" fill="#c0c0c0"/>
<rect x="355" y="661" width="1" height="27" fill="#c0c0c0"/>
<rect x="363" y="661" width="1" height="24" fill="#c0c0c0"/>
<rect x="371" y="661" width="1" height="21" fill="#c0c0c0"/>
<rect x="379" y="661" width="1" height="20" fill="#c0c0c0"/>
<rect x="387" y="661" width="1" height="20" fill="#c0c0c0"/>
<rect x="395" y="661" width="1" height="19" fill="#c0c0c0"/>
<rect x="403" y="661" width="1" height="18" fill="#c0c0c0"/>
<rect x="411" y="661" width="1" height="14" fill="#c0c0c0"/>
<rect x="419" y="661" width="1" height="11" fill="#c0c0c0"/>
<rect x="427" y="661" width="1" height="6" fill="#c0c0c0"/>
<rect x="435" y="661" width="1" height="2" fill="#c0c0c0"/>
<rect x="443" y="660" width="1" height="2" fill="#c0c0c0"/>
<rect x="451" y="657" width="1" height="5" fill="#c0c0c0"/>
<rect x="459" y="654" width="1" height="8" fill="#c0c0c0"/>
<rect x="467" y="653" width="1" height="9" fill="#c0c0c0"/>
<rect x="475" y="653" width="1" height="9" fill="#c0c0c0"/>
<rect x="483" y="652" width="1" height="10" fill="#c0c0c0"/>
<rect x="491" y="652" width="1" height="10" fill="#c0c0c0"/>
<rect x="499" y="651" width="1" height="11" fill="#c0c0c0"/>
<rect x="507" y="653" width="1" height="9" fill="#c0c0c0"/>
<rect x="515" y="653" width="1" height="9" fill="#c0c0c0"/>
<rect x="523" y="651" width="1" height="11" fill="#c0c0c0"/>
<rect x="531" y="651" width="1" height="11" fill="#c0c0c0"/>
<rect x="539" y="651" width="1" height="11" fill="#c0c0c0"/>
<rect x="547" y="650" width="1" height="12" fill="#c0c0c0"/>
<rect x="555" y="648" width="1" height="14" fill="#c0c0c0"/>
<rect x="563" y="646" width="1" height="16" fill="#c0c0c0"/>
<rect x="571" y="645" width="1" height="17" fill="#c0c0c0"/>
<rect x="579" y="647" width="1" height="15" fill="#c0c0c0"/>
<rect x="587" y="648" width="1" height="14" fill="#c0c0c0"/>
<rect x="595" y="648" width="1" height="14" fill="#c0c0c0"/>
<rect x="603" y="648" width="1" height="14" fill="#c0c0c0"/>
<rect x="611" y="650" width="1" height="12" fill="#c0c0c0"/>
<rect x="619" y="650" width="1" height="12" fill="#c0c0c0"/>
<rect x="627" y="648" width="1" height="14" fill="#c0c0c0"/>
<rect x="635" y="647" width="1" height="15" fill="#c0c0c0"/>
<rect x="643" y="648" width="1" height="14" fill="#c0c0c0"/>
<rect x="651" y="649" width="1" height="13" fill="#c0c0c0"/>
<rect x="659" y="650" width="1" height="12" fill="#c0c0c0"/>
<rect x="667" y="652" width="1" height="10" fill="#c0c0c0"/>
<rect x="675" y="654" width="1" height="8" fill="#c0c0c0"/>
<rect x="683" y="655" width="1" height="7" fill="#c0c0c0"/>
<rect x="691" y="654" width="1" height="8" fill="#c0c0c0"/>
<rect x="699" y="652" width="1" height="10" fill="#c0c0c0"/>
<rect x="707" y="651" width="1" height="11" fill="#c0c0c0"/>
<rect x="715" y="651" width="1" height="11" fill="#c0c0c0"/>
<rect x="723" y="651" width="1" height="11" fill="#c0c0c0"/>
<rect x="731" y="652" width="1" height="10" fill="#c0c0c0"/>
<rect x="739" y="652" width="1" height="10" fill="#c0c0c0"/>
<rect x="747" y="650" width="1" height="12" fill="#c0c0c0"/>
<rect x="755" y="650" width="1" height="12" fill="#c0c0c0"/>
<rect x="763" y="649" width="1" height="13" fill="#c0c0c0"/>
<rect x="771" y="649" width="1" height="13" fill="#c0c0c0"/>
<rect x="779" y="648" width="1" height="14" fill="#c0c0c0"/>
<rect x="787" y="645" width="1" height="17" fill="#c0c0c0"/>
<rect x="795" y="642" width="1" height="20" fill="#c0c0c0"/>
<rect x="803" y="638" width="1" height="24" fill="#c0c0c0"/>
<rect x="811" y="636" width="1" height="26" fill="#c0c0c0"/>
<rect x="819" y="633" width="1" height="29" fill="#c0c0c0"/>
<rect x="827" y="632" width="1" height="30" fill="#c0c0c0"/>
<rect x="835" y="631" width="1" height="31" fill="#c0c0c0"/>
<rect x="843" y="631" width="1" height="31" fill="#c0c0c0"/>
<rect x="851" y="631" width="1" height="31" fill="#c0c0c0"/>
<rect x="859" y="633" width="1" height="29" fill="#c0c0c0"/>
<rect x="867" y="635" width="1" height="27" fill="#c0c0c0"/>
<rect x="875" y="638" width="1" height="24" fill="#c0c0c0"/>
<rect x="883" y="640" width="1" height="22" fill="#c0c0c0"/>
<rect x="891" y="641" width="1" height="21" fill="#c0c0c0"/>
<rect x="899" y="642" width="1" height="20" fill="#c0c0c0"/>
<rect x="907" y="644" width="1" height="18" fill="#c0c0c0"/>
<rect x="915" y="646" width="1" height="16" fill="#c0c0c0"/>
<rect x="923" y="647" width="1" height="15" fill="#c0c0c0"/>
<rect x="931" y="648" width="1" height="14" fill="#c0c0c0"/>
<rect x="939" y="647" width="1" height="15" fill="#c0c0c0"/>
<rect x="947" y="648" width="1" height="14" fill="#c0c0c0"/>
<rect x="955" y="650" width="1" height="12" fill="#c0c0c0"/>
<rect x="963" y="651" width="1" height="11" fill="#c0c0c0"/>
<rect x="971" y="652" width="1" height="10" fill="#c0c0c0"/>
<rect x="979" y="653" width="1" height="9" fill="#c0c0c0"/>
<rect x="987" y="653" width="1" height="9" fill="#c0c0c0"/>
<rect x="995" y="653" width="1" height="9" fill="#c0c0c0"/>
<rect x="1003" y="653" width="1" height="9" fill="#c0c0c0"/>
<rect x="1011" y="652" width="1" height="10" fill="#c0c0c0"/>
<rect x="1019" y="652" width="1" height="10" fill="#c0c0c0"/>
<rect x="1027" y="651" width="1" height="11" fill="#c0c0c0"/>
<rect x="1035" y="651" width="1" height="11" fill="#c0c0c0"/>
<rect x="1043" y="652" width="1" height="10" fill="#c0c0c0"/>
<rect x="1051" y="652" width="1" height="10" fill="#c0c0c0"/>
<rect x="1059" y="653" width="1" height="9" fill="#c0c0c0"/>
<rect x="1067" y="653" width="1" height="9" fill="#c0c0c0"/>
<rect x="1075" y="653" width="1" height="9" fill="#c0c0c0"/>
<rect x="1083" y="653" width="1" height="9" fill="#c0c0c0"/>
<rect x="1091" y="652" width="1" height="10" fill="#c0c0c0"/>
<rect x="1099" y="652" width="1" height="10" fill="#c0c0c0"/>
<rect x="1107" y="653" width="1" height="9" fill="#c0c0c0"/>
<rect x="1115" y="653" width="1" height="9" fill="#c0c0c0"/>
<rect x="1123" y="653" width="1" height="9" fill="#c0c0c0"/>
<rect x="1131" y="651" width="1" height="11" fill="#c0c0c0"/>
<rect x="1139" y="649" width="1" height="13" fill="#c0c0c0"/>
<rect x="1147" y="648" width="1" height="14" fill="#c0c0c0"/>
<rect x="1155" y="648" width="1" height="14" fill="#c0c0c0"/>
<rect x="1163" y="648" width="1" height="14" fill="#c0c0c0"/>
<rect x="1171" y="648" width="1" height="14" fill="#c0c0c0"/>
<rect x="1179" y="647" width="1" height="15" fill="#c0c0c0"/>
<rect x="1187" y="647" width="1" height="15" fill="#c0c0c0"/>
<rect x="1195" y="647" width="1" height="15" fill="#c0c0c0"/>
<rect x="1203" y="647" width="1" height="15" fill="#c0c0c0"/>
<rect x="1211" y="648" width="1" height="14" fill="#c0c0c0"/>
<rect x="1219" y="649" width="1" height="13" fill="#c0c0c0"/>
<rect x="1227" y="649" width="1" height="13" fill="#c0c0c0"/>
<rect x="1235" y="650" width="1" height="12" fill="#c0c0c0"/>
<rect x="1243" y="649" width="1" height="13" fill="#c0c0c0"/>
<rect x="1251" y="649" width="1" height="13" fill="#c0c0c0"/>
<rect x="1259" y="650" width="1" height="12" fill="#c0c0c0"/>
<path d="M861 633h3v1h-3zM867 633h3v1h-3zM873 633h3v1h-3zM879 633h3v1h-3zM885 633h2v1h-2zM855 634h3v1h-3zM887 634h1v1h-1zM891 634h3v1h-3zM849 635h3v1h-3zM897 635h3v1h-3zM843 636h3v1h-3zM903 636h3v1h-3zM837 637h3v1h-3zM909 637h3v1h-3zM832 638h2v1h-2zM915 638h1v1h-1zM831 639h1v1h-1zM916 639h2v1h-2zM825 640h3v1h-3zM921 640h3v1h-3zM820 641h2v1h-2zM927 641h3v1h-3zM819 642h1v1h-1zM933 642h1v1h-1zM813 643h3v1h-3zM934 643h2v1h-2zM808 644h2v1h-2zM939 644h3v1h-3zM945 644h2v1h-2zM807 645h1v1h-1zM947 645h1v1h-1zM951 645h3v1h-3zM801 646h3v1h-3zM957 646h3v1h-3zM591 647h3v1h-3zM597 647h3v1h-3zM603 647h3v1h-3zM609 647h3v1h-3zM615 647h3v1h-3zM621 647h3v1h-3zM627 647h3v1h-3zM633 647h3v1h-3zM639 647h1v1h-1zM797 647h1v1h-1zM963 647h3v1h-3zM969 647h2v1h-2zM1191 647h3v1h-3zM1197 647h3v1h-3zM1203 647h3v1h-3zM1209 647h3v1h-3zM1215 647h3v1h-3zM1221 647h3v1h-3zM1227 647h3v1h-3zM1233 647h3v1h-3zM1239 647h3v1h-3zM1245 647h3v1h-3zM1251 647h3v1h-3zM1257 647h2v1h-2zM579 648h3v1h-3zM585 648h3v1h-3zM640 648h2v1h-2zM645 648h3v1h-3zM651 648h3v1h-3zM657 648h3v1h-3zM795 648h2v1h-2zM971 648h1v1h-1zM975 648h3v1h-3zM1185 648h3v1h-3zM1259 648h1v1h-1zM569 649h1v1h-1zM573 649h3v1h-3zM663 649h3v1h-3zM783 649h3v1h-3zM789 649h3v1h-3zM981 649h3v1h-3zM1179 649h3v1h-3zM557 650h1v1h-1zM561 650h3v1h-3zM567 650h2v1h-2zM669 650h3v1h-3zM675 650h3v1h-3zM681 650h3v1h-3zM765 650h3v1h-3zM771 650h3v1h-3zM777 650h3v1h-3zM987 650h3v1h-3zM993 650h2v1h-2zM1156 650h2v1h-2zM1161 650h3v1h-3zM1167 650h3v1h-3zM1173 650h3v1h-3zM527 651h1v1h-1zM531 651h3v1h-3zM537 651h3v1h-3zM543 651h3v1h-3zM549 651h3v1h-3zM555 651h2v1h-2zM687 651h3v1h-3zM693 651h3v1h-3zM699 651h3v1h-3zM705 651h3v1h-3zM747 651h3v1h-3zM753 651h3v1h-3zM759 651h3v1h-3zM995 651h1v1h-1zM999 651h3v1h-3zM1005 651h3v1h-3zM1011 651h3v1h-3zM1017 651h3v1h-3zM1059 651h3v1h-3zM1065 651h3v1h-3zM1071 651h3v1h-3zM1077 651h3v1h-3zM1083 651h3v1h-3zM1089 651h3v1h-3zM1095 651h3v1h-3zM1101 651h3v1h-3zM1131 651h3v1h-3zM1137 651h3v1h-3zM1143 651h3v1h-3zM1149 651h3v1h-3zM1155 651h1v1h-1zM514 652h2v1h-2zM519 652h3v1h-3zM525 652h2v1h-2zM711 652h3v1h-3zM717 652h3v1h-3zM723 652h3v1h-3zM729 652h3v1h-3zM735 652h2v1h-2zM741 652h3v1h-3zM1023 652h3v1h-3zM1053 652h3v1h-3zM1107 652h3v1h-3zM1113 652h3v1h-3zM1119 652h3v1h-3zM1125 652h3v1h-3zM507 653h3v1h-3zM513 653h1v1h-1zM737 653h1v1h-1zM1029 653h3v1h-3zM1035 653h3v1h-3zM1041 653h3v1h-3zM1047 653h3v1h-3zM501 654h3v1h-3zM495 655h3v1h-3zM490 656h2v1h-2zM489 657h1v1h-1zM485 659h1v1h-1zM483 660h2v1h-2zM477 661h3v1h-3zM473 662h1v1h-1zM471 663h2v1h-2zM465 664h3v1h-3zM460 666h2v1h-2zM459 667h1v1h-1zM455 668h1v1h-1zM93 669h3v1h-3zM99 669h3v1h-3zM105 669h3v1h-3zM111 669h3v1h-3zM117 669h3v1h-3zM123 669h2v1h-2zM453 669h2v1h-2zM63 670h3v1h-3zM69 670h3v1h-3zM75 670h3v1h-3zM81 670h3v1h-3zM87 670h3v1h-3zM125 670h1v1h-1zM129 670h3v1h-3zM449 670h1v1h-1zM45 671h3v1h-3zM51 671h3v1h-3zM57 671h3v1h-3zM135 671h3v1h-3zM141 671h2v1h-2zM219 671h3v1h-3zM225 671h3v1h-3zM231 671h3v1h-3zM237 671h3v1h-3zM243 671h3v1h-3zM447 671h2v1h-2zM3 672h3v1h-3zM9 672h3v1h-3zM15 672h3v1h-3zM21 672h3v1h-3zM27 672h3v1h-3zM33 672h3v1h-3zM39 672h3v1h-3zM143 672h1v1h-1zM147 672h3v1h-3zM153 672h3v1h-3zM213 672h3v1h-3zM249 672h2v1h-2zM159 673h3v1h-3zM165 673h3v1h-3zM171 673h3v1h-3zM177 673h3v1h-3zM183 673h3v1h-3zM189 673h3v1h-3zM195 673h3v1h-3zM201 673h3v1h-3zM207 673h3v1h-3zM251 673h1v1h-1zM442 673h2v1h-2zM255 674h3v1h-3zM441 674h1v1h-1zM261 675h1v1h-1zM437 675h1v1h-1zM262 676h2v1h-2zM435 676h2v1h-2zM431 677h1v1h-1zM267 678h2v1h-2zM429 678h2v1h-2zM269 679h1v1h-1zM424 679h2v1h-2zM273 680h1v1h-1zM423 680h1v1h-1zM274 681h2v1h-2zM417 681h3v1h-3zM413 682h1v1h-1zM279 683h1v1h-1zM411 683h2v1h-2zM280 684h1v1h-1zM406 684h2v1h-2zM281 685h1v1h-1zM405 685h1v1h-1zM400 686h2v1h-2zM285 687h2v1h-2zM399 687h1v1h-1zM287 688h1v1h-1zM395 688h1v1h-1zM393 689h2v1h-2zM291 690h2v1h-2zM293 691h1v1h-1zM388 691h2v1h-2zM387 692h1v1h-1zM297 693h2v1h-2zM382 693h2v1h-2zM299 694h1v1h-1zM381 694h1v1h-1zM375 695h3v1h-3zM303 696h2v1h-2zM305 697h1v1h-1zM369 697h3v1h-3zM309 698h1v1h-1zM310 699h2v1h-2zM365 699h1v1h-1zM363 700h2v1h-2zM315 701h3v1h-3zM357 702h3v1h-3zM321 703h3v1h-3zM327 704h3v1h-3zM346 704h2v1h-2zM351 704h3v1h-3zM333 705h3v1h-3zM339 705h3v1h-3zM345 705h1v1h-1z" fill="#ff0000"/>
</g>
<text x="7" y="637" font-size="9.9" fill="#000" textLength="148" lengthAdjust="spacingAndGlyphs" stroke="#000" stroke-width="0.25">MACD(12,26,9) 0.005448 0.006027</text>
<rect x="1596" y="626" width="1" height="1" fill="#000"/>
<rect x="1596" y="661" width="1" height="1" fill="#000"/>
<rect x="1596" y="715" width="1" height="1" fill="#000"/>
<text x="1599" y="635" font-size="9.9" fill="#000" textLength="38" lengthAdjust="spacingAndGlyphs" stroke="#000" stroke-width="0.25">0.015741</text>
<text x="1599" y="665" font-size="9.9" fill="#000" textLength="17.6" lengthAdjust="spacingAndGlyphs" stroke="#000" stroke-width="0.25">0.00</text>
<text x="1599" y="713" font-size="9.9" fill="#000" textLength="41.5" lengthAdjust="spacingAndGlyphs" stroke="#000" stroke-width="0.25">-0.024412</text>
<rect x="3" y="717" width="1" height="3" fill="#000"/>
<text x="2.2" y="729" font-size="9.9" fill="#000" textLength="47.4" lengthAdjust="spacingAndGlyphs" stroke="#000" stroke-width="0.25">7 Feb 2020</text>
<rect x="67" y="717" width="1" height="3" fill="#000"/>
<text x="66.2" y="729" font-size="9.9" fill="#000" textLength="52.0" lengthAdjust="spacingAndGlyphs" stroke="#000" stroke-width="0.25">17 Feb 2020</text>
<rect x="131" y="717" width="1" height="3" fill="#000"/>
<text x="130.2" y="729" font-size="9.9" fill="#000" textLength="52.300000000000004" lengthAdjust="spacingAndGlyphs" stroke="#000" stroke-width="0.25">26 Feb 2020</text>
<rect x="195" y="717" width="1" height="3" fill="#000"/>
<text x="194.2" y="729" font-size="9.9" fill="#000" textLength="46.9" lengthAdjust="spacingAndGlyphs" stroke="#000" stroke-width="0.25">6 Mar 2020</text>
<rect x="259" y="717" width="1" height="3" fill="#000"/>
<text x="258.2" y="729" font-size="9.9" fill="#000" textLength="52.300000000000004" lengthAdjust="spacingAndGlyphs" stroke="#000" stroke-width="0.25">16 Mar 2020</text>
<rect x="323" y="717" width="1" height="3" fill="#000"/>
<text x="322.2" y="729" font-size="9.9" fill="#000" textLength="51.9" lengthAdjust="spacingAndGlyphs" stroke="#000" stroke-width="0.25">25 Mar 2020</text>
<rect x="387" y="717" width="1" height="3" fill="#000"/>
<text x="386.2" y="729" font-size="9.9" fill="#000" textLength="45.6" lengthAdjust="spacingAndGlyphs" stroke="#000" stroke-width="0.25">3 Apr 2020</text>
<rect x="451" y="717" width="1" height="3" fill="#000"/>
<text x="450.2" y="729" font-size="9.9" fill="#000" textLength="50.6" lengthAdjust="spacingAndGlyphs" stroke="#000" stroke-width="0.25">13 Apr 2020</text>
<rect x="515" y="717" width="1" height="3" fill="#000"/>
<text x="514.2" y="729" font-size="9.9" fill="#000" textLength="51.1" lengthAdjust="spacingAndGlyphs" stroke="#000" stroke-width="0.25">22 Apr 2020</text>
<rect x="579" y="717" width="1" height="3" fill="#000"/>
<text x="578.2" y="729" font-size="9.9" fill="#000" textLength="49.85" lengthAdjust="spacingAndGlyphs" stroke="#000" stroke-width="0.25">1 May 2020</text>
<rect x="643" y="717" width="1" height="3" fill="#000"/>
<text x="642.2" y="729" font-size="9.9" fill="#000" textLength="55.35" lengthAdjust="spacingAndGlyphs" stroke="#000" stroke-width="0.25">11 May 2020</text>
<rect x="707" y="717" width="1" height="3" fill="#000"/>
<text x="706.2" y="729" font-size="9.9" fill="#000" textLength="55.6" lengthAdjust="spacingAndGlyphs" stroke="#000" stroke-width="0.25">20 May 2020</text>
<rect x="771" y="717" width="1" height="3" fill="#000"/>
<text x="770.2" y="729" font-size="9.9" fill="#000" textLength="55.6" lengthAdjust="spacingAndGlyphs" stroke="#000" stroke-width="0.25">29 May 2020</text>
<rect x="835" y="717" width="1" height="3" fill="#000"/>
<text x="834.2" y="729" font-size="9.9" fill="#000" textLength="45.6" lengthAdjust="spacingAndGlyphs" stroke="#000" stroke-width="0.25">8 Jun 2020</text>
<rect x="899" y="717" width="1" height="3" fill="#000"/>
<text x="898.2" y="729" font-size="9.9" fill="#000" textLength="49.85" lengthAdjust="spacingAndGlyphs" stroke="#000" stroke-width="0.25">17 Jun 2020</text>
<rect x="963" y="717" width="1" height="3" fill="#000"/>
<text x="962.2" y="729" font-size="9.9" fill="#000" textLength="50.6" lengthAdjust="spacingAndGlyphs" stroke="#000" stroke-width="0.25">26 Jun 2020</text>
<rect x="1027" y="717" width="1" height="3" fill="#000"/>
<text x="1026.2" y="729" font-size="9.9" fill="#000" textLength="42.35" lengthAdjust="spacingAndGlyphs" stroke="#000" stroke-width="0.25">6 Jul 2020</text>
<rect x="1091" y="717" width="1" height="3" fill="#000"/>
<text x="1090.2" y="729" font-size="9.9" fill="#000" textLength="47.35" lengthAdjust="spacingAndGlyphs" stroke="#000" stroke-width="0.25">15 Jul 2020</text>
<rect x="1155" y="717" width="1" height="3" fill="#000"/>
<text x="1154.2" y="729" font-size="9.9" fill="#000" textLength="47.1" lengthAdjust="spacingAndGlyphs" stroke="#000" stroke-width="0.25">24 Jul 2020</text>
<rect x="1219" y="717" width="1" height="3" fill="#000"/>
<text x="1218.2" y="729" font-size="9.9" fill="#000" textLength="47.6" lengthAdjust="spacingAndGlyphs" stroke="#000" stroke-width="0.25">3 Aug 2020</text>
<rect x="0" y="737" width="1639" height="1" fill="#dcdcdc"/>
<rect x="0" y="740" width="1639" height="19" fill="#f0f0f0"/>
<rect x="0" y="739" width="1639" height="1" fill="#000"/>
<rect x="209" y="738" width="102" height="19" fill="#fff"/>
<rect x="208" y="739" width="1" height="19" fill="#000"/>
<rect x="311" y="739" width="1" height="19" fill="#000"/>
<rect x="208" y="757" width="104" height="1" fill="#000"/>
<text x="15.5" y="754" font-size="12" fill="#6a6a6a" textLength="80.7" lengthAdjust="spacingAndGlyphs">EURUSD,Daily</text>
<text x="117.3" y="754" font-size="12" fill="#6a6a6a" textLength="80.2" lengthAdjust="spacingAndGlyphs">USDCHF,Daily</text>
<text x="218.3" y="754" font-size="12" fill="#000" textLength="82.8" lengthAdjust="spacingAndGlyphs">AUDUSD,Daily</text>
<text x="322.3" y="754" font-size="12" fill="#6a6a6a" textLength="82.0" lengthAdjust="spacingAndGlyphs">USDCAD,Daily</text>
<text x="425.6" y="754" font-size="12" fill="#6a6a6a" textLength="83.7" lengthAdjust="spacingAndGlyphs">USDCNH,Daily</text>
<text x="530.5" y="754" font-size="12" fill="#6a6a6a" textLength="78.2" lengthAdjust="spacingAndGlyphs">EURUSD,M15</text>
<text x="630.5" y="754" font-size="12" fill="#6a6a6a" textLength="78.7" lengthAdjust="spacingAndGlyphs">GBPUSD,M30</text>
<text x="731.0" y="754" font-size="12" fill="#6a6a6a" textLength="72.5" lengthAdjust="spacingAndGlyphs">XAUUSD,M5</text>
<text x="826.3" y="754" font-size="12" fill="#6a6a6a" textLength="50.5" lengthAdjust="spacingAndGlyphs">HK50,H1</text>
<text x="898.5" y="754" font-size="12" fill="#6a6a6a" textLength="57.5" lengthAdjust="spacingAndGlyphs">UK100,H1</text>
<text x="978.5" y="754" font-size="12" fill="#6a6a6a" textLength="57.5" lengthAdjust="spacingAndGlyphs">UK100,H1</text>
<text x="1058.5" y="754" font-size="12" fill="#6a6a6a" textLength="57.0" lengthAdjust="spacingAndGlyphs">GER30,H1</text>
<text x="1137.3" y="754" font-size="12" fill="#6a6a6a" textLength="55.0" lengthAdjust="spacingAndGlyphs">FRA40,H1</text>
<text x="1213.7" y="754" font-size="12" fill="#6a6a6a" textLength="63.5" lengthAdjust="spacingAndGlyphs">USOil,Daily</text>
<text x="1297.5" y="754" font-size="12" fill="#6a6a6a" textLength="63.2" lengthAdjust="spacingAndGlyphs">USDJPY,H1</text>
<text x="1382.5" y="754" font-size="12" fill="#6a6a6a" textLength="57.5" lengthAdjust="spacingAndGlyphs">DJ30,M15</text>
<text x="1461.3" y="754" font-size="12" fill="#6a6a6a" textLength="79.5" lengthAdjust="spacingAndGlyphs">CHINA300,H4</text>
<text x="1561.5" y="754" font-size="12" fill="#6a6a6a" textLength="43.7" lengthAdjust="spacingAndGlyphs">USOil,H</text>
<rect x="108" y="742" width="1" height="14" fill="#707070"/>
<rect x="416" y="742" width="1" height="14" fill="#707070"/>
<rect x="520" y="742" width="1" height="14" fill="#707070"/>
<rect x="620" y="742" width="1" height="14" fill="#707070"/>
<rect x="720" y="742" width="1" height="14" fill="#707070"/>
<rect x="816" y="742" width="1" height="14" fill="#707070"/>
<rect x="888" y="742" width="1" height="14" fill="#707070"/>
<rect x="968" y="742" width="1" height="14" fill="#707070"/>
<rect x="1048" y="742" width="1" height="14" fill="#707070"/>
<rect x="1128" y="742" width="1" height="14" fill="#707070"/>
<rect x="1204" y="742" width="1" height="14" fill="#707070"/>
<rect x="1288" y="742" width="1" height="14" fill="#707070"/>
<rect x="1372" y="742" width="1" height="14" fill="#707070"/>
<rect x="1452" y="742" width="1" height="14" fill="#707070"/>
<rect x="1552" y="742" width="1" height="14" fill="#707070"/>
<rect x="1606" y="740" width="33" height="19" fill="#f0f0f0"/>
<path d="M1614 745v7l-3.5-3.5z" fill="#a0a0a0"/><path d="M1630 745v7l3.5-3.5z" fill="#000"/>
</svg>
</body></html>
